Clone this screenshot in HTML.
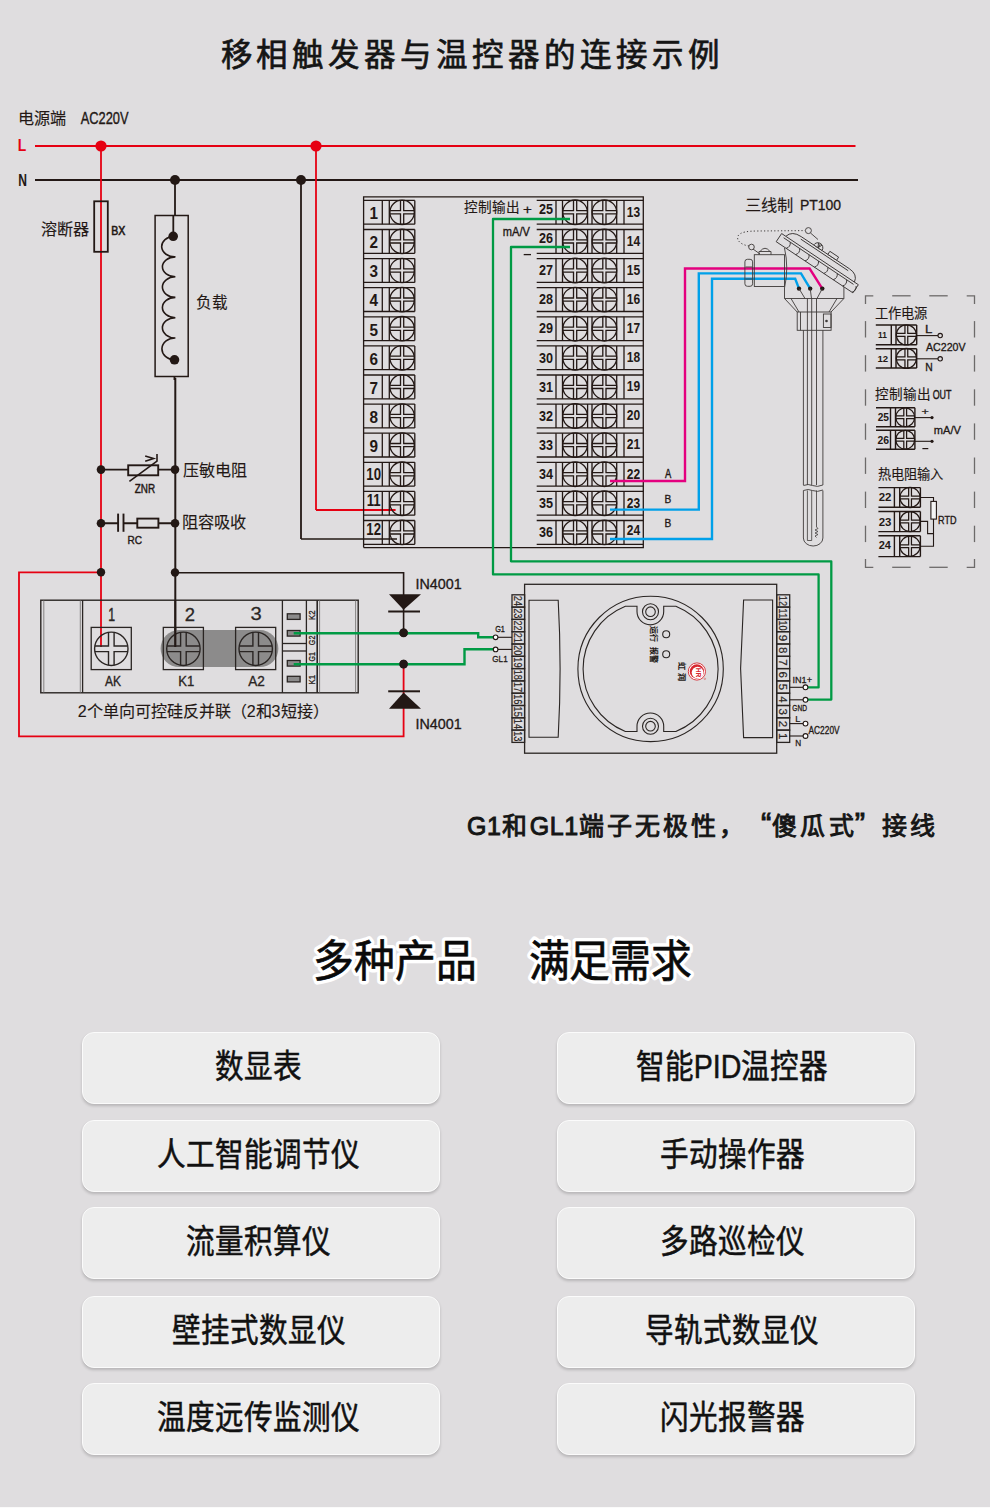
<!DOCTYPE html>
<html lang="zh-CN"><head><meta charset="utf-8"><style>
*{margin:0;padding:0;box-sizing:border-box}
html,body{width:990px;height:1508px;overflow:hidden;background:#dfdddf;font-family:"Liberation Sans", sans-serif}
.abs{position:absolute}
#title{position:absolute;left:220.5px;top:32.5px;font-size:31.5px;letter-spacing:3.95px;color:#151515;white-space:nowrap;line-height:45px;-webkit-text-stroke:0.7px #151515}
#note{position:absolute;left:467px;top:808px;font-size:25px;color:#151515;white-space:nowrap;line-height:36px;letter-spacing:3.1px;-webkit-text-stroke:0.9px #151515}
#note .lat{letter-spacing:0.6px}
#note .q{display:inline-block;width:25px;font-size:31px;line-height:20px;position:relative}
.h2{position:absolute;top:931px;font-size:40.8px;color:#0a0a0a;white-space:nowrap;line-height:60px;-webkit-text-stroke:0.6px #0a0a0a;transform-origin:0 50%;transform:scaleY(1.09)}
.h2.w{color:#fff;-webkit-text-stroke:7px #fff}
.btn{position:absolute;width:358px;height:72px;border-radius:12px;background:#ededed;border:1.5px solid #fbfbfb;
 box-shadow:0 2px 3px rgba(0,0,0,0.18)}
.btn span{position:absolute;left:-5px;right:0;top:0;text-align:center;font-size:28.6px;color:#111;line-height:68px;white-space:nowrap;transform:scaleY(1.14);-webkit-text-stroke:0.45px #111}
#bot{position:absolute;left:0;top:1507px;width:990px;height:1px;background:#fafafa}
</style></head><body>
<div id="title">移相触发器与温控器的连接示例</div>
<svg class="abs" style="left:0;top:0" width="990" height="800" viewBox="0 0 990 800">
<line x1="35" y1="146" x2="855.5" y2="146" stroke="#e60012" stroke-width="2.2" />
<line x1="35" y1="180" x2="858" y2="180" stroke="#231815" stroke-width="2" />
<line x1="101" y1="146" x2="101" y2="647" stroke="#e60012" stroke-width="1.8" />
<line x1="316" y1="146" x2="316" y2="510" stroke="#e60012" stroke-width="1.8" />
<polyline points="316,510 395.6,510" fill="none" stroke="#e60012" stroke-width="1.8" stroke-linejoin="miter" />
<line x1="175" y1="180" x2="175" y2="215.5" stroke="#231815" stroke-width="1.8" />
<line x1="174.5" y1="376.5" x2="174.5" y2="380" stroke="#231815" stroke-width="1.9" />
<line x1="175.3" y1="378" x2="175.3" y2="647" stroke="#231815" stroke-width="2" />
<line x1="301" y1="180" x2="301" y2="539" stroke="#231815" stroke-width="1.8" />
<polyline points="301,539 397,539" fill="none" stroke="#231815" stroke-width="1.6" stroke-linejoin="miter" />
<circle cx="101" cy="146" r="5.6" fill="#e60012"/>
<circle cx="316" cy="146" r="5.6" fill="#e60012"/>
<circle cx="175" cy="180" r="5" fill="#231815"/>
<circle cx="301" cy="180" r="5" fill="#231815"/>
<rect x="94.2" y="201.3" width="13.6" height="50.5" fill="none" stroke="#231815" stroke-width="1.8" />
<rect x="155.1" y="215.5" width="33.1" height="161" fill="none" stroke="#231815" stroke-width="1.5" />
<line x1="173.3" y1="215.5" x2="173.3" y2="236" stroke="#231815" stroke-width="1.8" />
<circle cx="173.2" cy="236.3" r="4.8" fill="#231815"/>
<circle cx="174.5" cy="359.8" r="4.8" fill="#231815"/>
<path d="M174,236.3 A13 10.30 0 0 0 175.4,256.9 A13 9.95 0 0 0 175.4,276.8 A13 10.30 0 0 0 175.4,297.4 A13 10.15 0 0 0 175.4,317.7 A13 10.15 0 0 0 175.4,338.0 A13 10.90 0 0 0 174.5,359.8" fill="none" stroke="#231815" stroke-width="1.6"/>
<line x1="101" y1="469.6" x2="175" y2="469.6" stroke="#231815" stroke-width="1.9" />
<rect x="128.2" y="465.3" width="30" height="10" fill="#dfdddf" stroke="#231815" stroke-width="1.9" />
<polyline points="129.4,481.4 157,461.1 157,454.1" fill="none" stroke="#231815" stroke-width="1.6" stroke-linejoin="miter" />
<polyline points="145.2,455.9 153.6,458.5 145.2,461.2" fill="none" stroke="#231815" stroke-width="1.6" stroke-linejoin="miter" />
<circle cx="101" cy="469.6" r="4.3" fill="#231815"/>
<circle cx="175" cy="469.6" r="4.3" fill="#231815"/>
<line x1="101" y1="523.2" x2="175" y2="523.2" stroke="#231815" stroke-width="1.9" />
<rect x="119" y="513" width="4" height="20" fill="#dfdddf"/>
<line x1="118.1" y1="513.6" x2="118.1" y2="531.8" stroke="#231815" stroke-width="1.9" />
<line x1="123.5" y1="513.6" x2="123.5" y2="531.8" stroke="#231815" stroke-width="1.9" />
<rect x="137.3" y="518.6" width="21.1" height="9.1" fill="#dfdddf" stroke="#231815" stroke-width="1.9" />
<circle cx="101" cy="523.2" r="4.3" fill="#231815"/>
<circle cx="175" cy="523.2" r="4.3" fill="#231815"/>
<polyline points="101,572.3 19,572.3 19,736.4 403.6,736.4 403.6,664" fill="none" stroke="#e60012" stroke-width="1.8" stroke-linejoin="miter" />
<polyline points="175,572.7 403.6,572.7 403.6,632.7" fill="none" stroke="#231815" stroke-width="1.6" stroke-linejoin="miter" />
<circle cx="101" cy="572.3" r="4.2" fill="#231815"/>
<circle cx="175" cy="572.5" r="4.2" fill="#231815"/>
<path d="M389,594.2 L421,594.2 L403.6,609.8 Z" fill="#231815"/>
<line x1="388.2" y1="611.5" x2="420" y2="611.5" stroke="#231815" stroke-width="2" />
<path d="M389,708.7 L421,708.7 L403.6,692.6 Z" fill="#231815"/>
<line x1="388.2" y1="691.3" x2="420" y2="691.3" stroke="#231815" stroke-width="2" />
<circle cx="403.6" cy="632.7" r="4.3" fill="#231815"/>
<circle cx="403.6" cy="664" r="4.3" fill="#231815"/>
<polyline points="363.6,547.6 363.6,196.8 643.3,196.8 643.3,547.6 363.6,547.6" fill="none" stroke="#231815" stroke-width="1.3" stroke-linejoin="miter" />
<line x1="363.6" y1="200.4" x2="414.8" y2="200.4" stroke="#231815" stroke-width="1.3" />
<line x1="363.6" y1="224.20000000000002" x2="414.8" y2="224.20000000000002" stroke="#231815" stroke-width="1.3" />
<line x1="382.3" y1="200.4" x2="382.3" y2="224.20000000000002" stroke="#231815" stroke-width="1.3" />
<line x1="389.3" y1="200.4" x2="389.3" y2="224.20000000000002" stroke="#231815" stroke-width="1.3" />
<line x1="414.8" y1="200.4" x2="414.8" y2="224.20000000000002" stroke="#231815" stroke-width="1.3" />
<circle cx="402.1" cy="212.3" r="12.2" fill="none" stroke="#231815" stroke-width="1.3"/>
<path d="M400.5,200.40000000000003V210.70000000000002H390.20000000000005M390.20000000000005,213.9H400.5V224.2M403.70000000000005,224.2V213.9H414.0M414.0,210.70000000000002H403.70000000000005V200.40000000000003" fill="none" stroke="#231815" stroke-width="1.3"/>
<text x="0" y="0" font-size="17.4" fill="#231815" font-weight="bold" text-anchor="middle" font-family='"Liberation Sans", sans-serif' transform="translate(373.8,219.1) scale(0.88,1.0)">1</text>
<line x1="536.7" y1="200.4" x2="643.3" y2="200.4" stroke="#231815" stroke-width="1.3" />
<line x1="536.7" y1="224.20000000000002" x2="643.3" y2="224.20000000000002" stroke="#231815" stroke-width="1.3" />
<line x1="556" y1="200.4" x2="556" y2="224.20000000000002" stroke="#231815" stroke-width="1.3" />
<line x1="562.5" y1="200.4" x2="562.5" y2="224.20000000000002" stroke="#231815" stroke-width="1.3" />
<line x1="587.6" y1="200.4" x2="587.6" y2="224.20000000000002" stroke="#231815" stroke-width="1.3" />
<line x1="592" y1="200.4" x2="592" y2="224.20000000000002" stroke="#231815" stroke-width="1.3" />
<line x1="616.7" y1="200.4" x2="616.7" y2="224.20000000000002" stroke="#231815" stroke-width="1.3" />
<line x1="624" y1="200.4" x2="624" y2="224.20000000000002" stroke="#231815" stroke-width="1.3" />
<circle cx="575.1" cy="212.3" r="12.3" fill="none" stroke="#231815" stroke-width="1.3"/>
<path d="M573.5,200.3V210.70000000000002H563.1M563.1,213.9H573.5V224.3M576.7,224.3V213.9H587.1M587.1,210.70000000000002H576.7V200.3" fill="none" stroke="#231815" stroke-width="1.3"/>
<circle cx="604.4" cy="212.3" r="12.3" fill="none" stroke="#231815" stroke-width="1.3"/>
<path d="M602.8,200.3V210.70000000000002H592.4M592.4,213.9H602.8V224.3M606.0,224.3V213.9H616.4M616.4,210.70000000000002H606.0V200.3" fill="none" stroke="#231815" stroke-width="1.3"/>
<text x="0" y="0" font-size="14" fill="#231815" font-weight="bold" text-anchor="middle" font-family='"Liberation Sans", sans-serif' transform="translate(546.1,213.8) scale(0.9,1.0)">25</text>
<text x="0" y="0" font-size="14" fill="#231815" font-weight="bold" text-anchor="middle" font-family='"Liberation Sans", sans-serif' transform="translate(633.4,216.6) scale(0.86,1.0)">13</text>
<line x1="363.6" y1="229.5" x2="414.8" y2="229.5" stroke="#231815" stroke-width="1.3" />
<line x1="363.6" y1="253.3" x2="414.8" y2="253.3" stroke="#231815" stroke-width="1.3" />
<line x1="382.3" y1="229.5" x2="382.3" y2="253.3" stroke="#231815" stroke-width="1.3" />
<line x1="389.3" y1="229.5" x2="389.3" y2="253.3" stroke="#231815" stroke-width="1.3" />
<line x1="414.8" y1="229.5" x2="414.8" y2="253.3" stroke="#231815" stroke-width="1.3" />
<circle cx="402.1" cy="241.4" r="12.2" fill="none" stroke="#231815" stroke-width="1.3"/>
<path d="M400.5,229.50000000000003V239.8H390.20000000000005M390.20000000000005,243.0H400.5V253.29999999999998M403.70000000000005,253.29999999999998V243.0H414.0M414.0,239.8H403.70000000000005V229.50000000000003" fill="none" stroke="#231815" stroke-width="1.3"/>
<text x="0" y="0" font-size="17.4" fill="#231815" font-weight="bold" text-anchor="middle" font-family='"Liberation Sans", sans-serif' transform="translate(373.8,248.2) scale(0.88,1.0)">2</text>
<line x1="536.7" y1="229.5" x2="643.3" y2="229.5" stroke="#231815" stroke-width="1.3" />
<line x1="536.7" y1="253.3" x2="643.3" y2="253.3" stroke="#231815" stroke-width="1.3" />
<line x1="556" y1="229.5" x2="556" y2="253.3" stroke="#231815" stroke-width="1.3" />
<line x1="562.5" y1="229.5" x2="562.5" y2="253.3" stroke="#231815" stroke-width="1.3" />
<line x1="587.6" y1="229.5" x2="587.6" y2="253.3" stroke="#231815" stroke-width="1.3" />
<line x1="592" y1="229.5" x2="592" y2="253.3" stroke="#231815" stroke-width="1.3" />
<line x1="616.7" y1="229.5" x2="616.7" y2="253.3" stroke="#231815" stroke-width="1.3" />
<line x1="624" y1="229.5" x2="624" y2="253.3" stroke="#231815" stroke-width="1.3" />
<circle cx="575.1" cy="241.4" r="12.3" fill="none" stroke="#231815" stroke-width="1.3"/>
<path d="M573.5,229.4V239.8H563.1M563.1,243.0H573.5V253.4M576.7,253.4V243.0H587.1M587.1,239.8H576.7V229.4" fill="none" stroke="#231815" stroke-width="1.3"/>
<circle cx="604.4" cy="241.4" r="12.3" fill="none" stroke="#231815" stroke-width="1.3"/>
<path d="M602.8,229.4V239.8H592.4M592.4,243.0H602.8V253.4M606.0,253.4V243.0H616.4M616.4,239.8H606.0V229.4" fill="none" stroke="#231815" stroke-width="1.3"/>
<text x="0" y="0" font-size="14" fill="#231815" font-weight="bold" text-anchor="middle" font-family='"Liberation Sans", sans-serif' transform="translate(546.1,242.9) scale(0.9,1.0)">26</text>
<text x="0" y="0" font-size="14" fill="#231815" font-weight="bold" text-anchor="middle" font-family='"Liberation Sans", sans-serif' transform="translate(633.4,245.7) scale(0.86,1.0)">14</text>
<line x1="363.6" y1="258.6" x2="414.8" y2="258.6" stroke="#231815" stroke-width="1.3" />
<line x1="363.6" y1="282.40000000000003" x2="414.8" y2="282.40000000000003" stroke="#231815" stroke-width="1.3" />
<line x1="382.3" y1="258.6" x2="382.3" y2="282.40000000000003" stroke="#231815" stroke-width="1.3" />
<line x1="389.3" y1="258.6" x2="389.3" y2="282.40000000000003" stroke="#231815" stroke-width="1.3" />
<line x1="414.8" y1="258.6" x2="414.8" y2="282.40000000000003" stroke="#231815" stroke-width="1.3" />
<circle cx="402.1" cy="270.5" r="12.2" fill="none" stroke="#231815" stroke-width="1.3"/>
<path d="M400.5,258.6V268.9H390.20000000000005M390.20000000000005,272.1H400.5V282.4M403.70000000000005,282.4V272.1H414.0M414.0,268.9H403.70000000000005V258.6" fill="none" stroke="#231815" stroke-width="1.3"/>
<text x="0" y="0" font-size="17.4" fill="#231815" font-weight="bold" text-anchor="middle" font-family='"Liberation Sans", sans-serif' transform="translate(373.8,277.3) scale(0.88,1.0)">3</text>
<line x1="536.7" y1="258.6" x2="643.3" y2="258.6" stroke="#231815" stroke-width="1.3" />
<line x1="536.7" y1="282.40000000000003" x2="643.3" y2="282.40000000000003" stroke="#231815" stroke-width="1.3" />
<line x1="556" y1="258.6" x2="556" y2="282.40000000000003" stroke="#231815" stroke-width="1.3" />
<line x1="562.5" y1="258.6" x2="562.5" y2="282.40000000000003" stroke="#231815" stroke-width="1.3" />
<line x1="587.6" y1="258.6" x2="587.6" y2="282.40000000000003" stroke="#231815" stroke-width="1.3" />
<line x1="592" y1="258.6" x2="592" y2="282.40000000000003" stroke="#231815" stroke-width="1.3" />
<line x1="616.7" y1="258.6" x2="616.7" y2="282.40000000000003" stroke="#231815" stroke-width="1.3" />
<line x1="624" y1="258.6" x2="624" y2="282.40000000000003" stroke="#231815" stroke-width="1.3" />
<circle cx="575.1" cy="270.5" r="12.3" fill="none" stroke="#231815" stroke-width="1.3"/>
<path d="M573.5,258.5V268.9H563.1M563.1,272.1H573.5V282.5M576.7,282.5V272.1H587.1M587.1,268.9H576.7V258.5" fill="none" stroke="#231815" stroke-width="1.3"/>
<circle cx="604.4" cy="270.5" r="12.3" fill="none" stroke="#231815" stroke-width="1.3"/>
<path d="M602.8,258.5V268.9H592.4M592.4,272.1H602.8V282.5M606.0,282.5V272.1H616.4M616.4,268.9H606.0V258.5" fill="none" stroke="#231815" stroke-width="1.3"/>
<text x="0" y="0" font-size="14" fill="#231815" font-weight="bold" text-anchor="middle" font-family='"Liberation Sans", sans-serif' transform="translate(546.1,275.20000000000005) scale(0.9,1.0)">27</text>
<text x="0" y="0" font-size="14" fill="#231815" font-weight="bold" text-anchor="middle" font-family='"Liberation Sans", sans-serif' transform="translate(633.4,274.8) scale(0.86,1.0)">15</text>
<line x1="363.6" y1="287.70000000000005" x2="414.8" y2="287.70000000000005" stroke="#231815" stroke-width="1.3" />
<line x1="363.6" y1="311.50000000000006" x2="414.8" y2="311.50000000000006" stroke="#231815" stroke-width="1.3" />
<line x1="382.3" y1="287.70000000000005" x2="382.3" y2="311.50000000000006" stroke="#231815" stroke-width="1.3" />
<line x1="389.3" y1="287.70000000000005" x2="389.3" y2="311.50000000000006" stroke="#231815" stroke-width="1.3" />
<line x1="414.8" y1="287.70000000000005" x2="414.8" y2="311.50000000000006" stroke="#231815" stroke-width="1.3" />
<circle cx="402.1" cy="299.6" r="12.2" fill="none" stroke="#231815" stroke-width="1.3"/>
<path d="M400.5,287.70000000000005V298.0H390.20000000000005M390.20000000000005,301.20000000000005H400.5V311.5M403.70000000000005,311.5V301.20000000000005H414.0M414.0,298.0H403.70000000000005V287.70000000000005" fill="none" stroke="#231815" stroke-width="1.3"/>
<text x="0" y="0" font-size="17.4" fill="#231815" font-weight="bold" text-anchor="middle" font-family='"Liberation Sans", sans-serif' transform="translate(373.8,306.40000000000003) scale(0.88,1.0)">4</text>
<line x1="536.7" y1="287.70000000000005" x2="643.3" y2="287.70000000000005" stroke="#231815" stroke-width="1.3" />
<line x1="536.7" y1="311.50000000000006" x2="643.3" y2="311.50000000000006" stroke="#231815" stroke-width="1.3" />
<line x1="556" y1="287.70000000000005" x2="556" y2="311.50000000000006" stroke="#231815" stroke-width="1.3" />
<line x1="562.5" y1="287.70000000000005" x2="562.5" y2="311.50000000000006" stroke="#231815" stroke-width="1.3" />
<line x1="587.6" y1="287.70000000000005" x2="587.6" y2="311.50000000000006" stroke="#231815" stroke-width="1.3" />
<line x1="592" y1="287.70000000000005" x2="592" y2="311.50000000000006" stroke="#231815" stroke-width="1.3" />
<line x1="616.7" y1="287.70000000000005" x2="616.7" y2="311.50000000000006" stroke="#231815" stroke-width="1.3" />
<line x1="624" y1="287.70000000000005" x2="624" y2="311.50000000000006" stroke="#231815" stroke-width="1.3" />
<circle cx="575.1" cy="299.6" r="12.3" fill="none" stroke="#231815" stroke-width="1.3"/>
<path d="M573.5,287.6V298.0H563.1M563.1,301.20000000000005H573.5V311.6M576.7,311.6V301.20000000000005H587.1M587.1,298.0H576.7V287.6" fill="none" stroke="#231815" stroke-width="1.3"/>
<circle cx="604.4" cy="299.6" r="12.3" fill="none" stroke="#231815" stroke-width="1.3"/>
<path d="M602.8,287.6V298.0H592.4M592.4,301.20000000000005H602.8V311.6M606.0,311.6V301.20000000000005H616.4M616.4,298.0H606.0V287.6" fill="none" stroke="#231815" stroke-width="1.3"/>
<text x="0" y="0" font-size="14" fill="#231815" font-weight="bold" text-anchor="middle" font-family='"Liberation Sans", sans-serif' transform="translate(546.1,304.30000000000007) scale(0.9,1.0)">28</text>
<text x="0" y="0" font-size="14" fill="#231815" font-weight="bold" text-anchor="middle" font-family='"Liberation Sans", sans-serif' transform="translate(633.4,303.90000000000003) scale(0.86,1.0)">16</text>
<line x1="363.6" y1="316.8" x2="414.8" y2="316.8" stroke="#231815" stroke-width="1.3" />
<line x1="363.6" y1="340.6" x2="414.8" y2="340.6" stroke="#231815" stroke-width="1.3" />
<line x1="382.3" y1="316.8" x2="382.3" y2="340.6" stroke="#231815" stroke-width="1.3" />
<line x1="389.3" y1="316.8" x2="389.3" y2="340.6" stroke="#231815" stroke-width="1.3" />
<line x1="414.8" y1="316.8" x2="414.8" y2="340.6" stroke="#231815" stroke-width="1.3" />
<circle cx="402.1" cy="328.7" r="12.2" fill="none" stroke="#231815" stroke-width="1.3"/>
<path d="M400.5,316.8V327.09999999999997H390.20000000000005M390.20000000000005,330.3H400.5V340.59999999999997M403.70000000000005,340.59999999999997V330.3H414.0M414.0,327.09999999999997H403.70000000000005V316.8" fill="none" stroke="#231815" stroke-width="1.3"/>
<text x="0" y="0" font-size="17.4" fill="#231815" font-weight="bold" text-anchor="middle" font-family='"Liberation Sans", sans-serif' transform="translate(373.8,335.5) scale(0.88,1.0)">5</text>
<line x1="536.7" y1="316.8" x2="643.3" y2="316.8" stroke="#231815" stroke-width="1.3" />
<line x1="536.7" y1="340.6" x2="643.3" y2="340.6" stroke="#231815" stroke-width="1.3" />
<line x1="556" y1="316.8" x2="556" y2="340.6" stroke="#231815" stroke-width="1.3" />
<line x1="562.5" y1="316.8" x2="562.5" y2="340.6" stroke="#231815" stroke-width="1.3" />
<line x1="587.6" y1="316.8" x2="587.6" y2="340.6" stroke="#231815" stroke-width="1.3" />
<line x1="592" y1="316.8" x2="592" y2="340.6" stroke="#231815" stroke-width="1.3" />
<line x1="616.7" y1="316.8" x2="616.7" y2="340.6" stroke="#231815" stroke-width="1.3" />
<line x1="624" y1="316.8" x2="624" y2="340.6" stroke="#231815" stroke-width="1.3" />
<circle cx="575.1" cy="328.7" r="12.3" fill="none" stroke="#231815" stroke-width="1.3"/>
<path d="M573.5,316.7V327.09999999999997H563.1M563.1,330.3H573.5V340.7M576.7,340.7V330.3H587.1M587.1,327.09999999999997H576.7V316.7" fill="none" stroke="#231815" stroke-width="1.3"/>
<circle cx="604.4" cy="328.7" r="12.3" fill="none" stroke="#231815" stroke-width="1.3"/>
<path d="M602.8,316.7V327.09999999999997H592.4M592.4,330.3H602.8V340.7M606.0,340.7V330.3H616.4M616.4,327.09999999999997H606.0V316.7" fill="none" stroke="#231815" stroke-width="1.3"/>
<text x="0" y="0" font-size="14" fill="#231815" font-weight="bold" text-anchor="middle" font-family='"Liberation Sans", sans-serif' transform="translate(546.1,333.40000000000003) scale(0.9,1.0)">29</text>
<text x="0" y="0" font-size="14" fill="#231815" font-weight="bold" text-anchor="middle" font-family='"Liberation Sans", sans-serif' transform="translate(633.4,333.0) scale(0.86,1.0)">17</text>
<line x1="363.6" y1="345.9" x2="414.8" y2="345.9" stroke="#231815" stroke-width="1.3" />
<line x1="363.6" y1="369.7" x2="414.8" y2="369.7" stroke="#231815" stroke-width="1.3" />
<line x1="382.3" y1="345.9" x2="382.3" y2="369.7" stroke="#231815" stroke-width="1.3" />
<line x1="389.3" y1="345.9" x2="389.3" y2="369.7" stroke="#231815" stroke-width="1.3" />
<line x1="414.8" y1="345.9" x2="414.8" y2="369.7" stroke="#231815" stroke-width="1.3" />
<circle cx="402.1" cy="357.79999999999995" r="12.2" fill="none" stroke="#231815" stroke-width="1.3"/>
<path d="M400.5,345.9V356.19999999999993H390.20000000000005M390.20000000000005,359.4H400.5V369.69999999999993M403.70000000000005,369.69999999999993V359.4H414.0M414.0,356.19999999999993H403.70000000000005V345.9" fill="none" stroke="#231815" stroke-width="1.3"/>
<text x="0" y="0" font-size="17.4" fill="#231815" font-weight="bold" text-anchor="middle" font-family='"Liberation Sans", sans-serif' transform="translate(373.8,364.59999999999997) scale(0.88,1.0)">6</text>
<line x1="536.7" y1="345.9" x2="643.3" y2="345.9" stroke="#231815" stroke-width="1.3" />
<line x1="536.7" y1="369.7" x2="643.3" y2="369.7" stroke="#231815" stroke-width="1.3" />
<line x1="556" y1="345.9" x2="556" y2="369.7" stroke="#231815" stroke-width="1.3" />
<line x1="562.5" y1="345.9" x2="562.5" y2="369.7" stroke="#231815" stroke-width="1.3" />
<line x1="587.6" y1="345.9" x2="587.6" y2="369.7" stroke="#231815" stroke-width="1.3" />
<line x1="592" y1="345.9" x2="592" y2="369.7" stroke="#231815" stroke-width="1.3" />
<line x1="616.7" y1="345.9" x2="616.7" y2="369.7" stroke="#231815" stroke-width="1.3" />
<line x1="624" y1="345.9" x2="624" y2="369.7" stroke="#231815" stroke-width="1.3" />
<circle cx="575.1" cy="357.79999999999995" r="12.3" fill="none" stroke="#231815" stroke-width="1.3"/>
<path d="M573.5,345.79999999999995V356.19999999999993H563.1M563.1,359.4H573.5V369.79999999999995M576.7,369.79999999999995V359.4H587.1M587.1,356.19999999999993H576.7V345.79999999999995" fill="none" stroke="#231815" stroke-width="1.3"/>
<circle cx="604.4" cy="357.79999999999995" r="12.3" fill="none" stroke="#231815" stroke-width="1.3"/>
<path d="M602.8,345.79999999999995V356.19999999999993H592.4M592.4,359.4H602.8V369.79999999999995M606.0,369.79999999999995V359.4H616.4M616.4,356.19999999999993H606.0V345.79999999999995" fill="none" stroke="#231815" stroke-width="1.3"/>
<text x="0" y="0" font-size="14" fill="#231815" font-weight="bold" text-anchor="middle" font-family='"Liberation Sans", sans-serif' transform="translate(546.1,362.5) scale(0.9,1.0)">30</text>
<text x="0" y="0" font-size="14" fill="#231815" font-weight="bold" text-anchor="middle" font-family='"Liberation Sans", sans-serif' transform="translate(633.4,362.09999999999997) scale(0.86,1.0)">18</text>
<line x1="363.6" y1="375.0" x2="414.8" y2="375.0" stroke="#231815" stroke-width="1.3" />
<line x1="363.6" y1="398.8" x2="414.8" y2="398.8" stroke="#231815" stroke-width="1.3" />
<line x1="382.3" y1="375.0" x2="382.3" y2="398.8" stroke="#231815" stroke-width="1.3" />
<line x1="389.3" y1="375.0" x2="389.3" y2="398.8" stroke="#231815" stroke-width="1.3" />
<line x1="414.8" y1="375.0" x2="414.8" y2="398.8" stroke="#231815" stroke-width="1.3" />
<circle cx="402.1" cy="386.9" r="12.2" fill="none" stroke="#231815" stroke-width="1.3"/>
<path d="M400.5,375.0V385.29999999999995H390.20000000000005M390.20000000000005,388.5H400.5V398.79999999999995M403.70000000000005,398.79999999999995V388.5H414.0M414.0,385.29999999999995H403.70000000000005V375.0" fill="none" stroke="#231815" stroke-width="1.3"/>
<text x="0" y="0" font-size="17.4" fill="#231815" font-weight="bold" text-anchor="middle" font-family='"Liberation Sans", sans-serif' transform="translate(373.8,393.7) scale(0.88,1.0)">7</text>
<line x1="536.7" y1="375.0" x2="643.3" y2="375.0" stroke="#231815" stroke-width="1.3" />
<line x1="536.7" y1="398.8" x2="643.3" y2="398.8" stroke="#231815" stroke-width="1.3" />
<line x1="556" y1="375.0" x2="556" y2="398.8" stroke="#231815" stroke-width="1.3" />
<line x1="562.5" y1="375.0" x2="562.5" y2="398.8" stroke="#231815" stroke-width="1.3" />
<line x1="587.6" y1="375.0" x2="587.6" y2="398.8" stroke="#231815" stroke-width="1.3" />
<line x1="592" y1="375.0" x2="592" y2="398.8" stroke="#231815" stroke-width="1.3" />
<line x1="616.7" y1="375.0" x2="616.7" y2="398.8" stroke="#231815" stroke-width="1.3" />
<line x1="624" y1="375.0" x2="624" y2="398.8" stroke="#231815" stroke-width="1.3" />
<circle cx="575.1" cy="386.9" r="12.3" fill="none" stroke="#231815" stroke-width="1.3"/>
<path d="M573.5,374.9V385.29999999999995H563.1M563.1,388.5H573.5V398.9M576.7,398.9V388.5H587.1M587.1,385.29999999999995H576.7V374.9" fill="none" stroke="#231815" stroke-width="1.3"/>
<circle cx="604.4" cy="386.9" r="12.3" fill="none" stroke="#231815" stroke-width="1.3"/>
<path d="M602.8,374.9V385.29999999999995H592.4M592.4,388.5H602.8V398.9M606.0,398.9V388.5H616.4M616.4,385.29999999999995H606.0V374.9" fill="none" stroke="#231815" stroke-width="1.3"/>
<text x="0" y="0" font-size="14" fill="#231815" font-weight="bold" text-anchor="middle" font-family='"Liberation Sans", sans-serif' transform="translate(546.1,391.6) scale(0.9,1.0)">31</text>
<text x="0" y="0" font-size="14" fill="#231815" font-weight="bold" text-anchor="middle" font-family='"Liberation Sans", sans-serif' transform="translate(633.4,391.2) scale(0.86,1.0)">19</text>
<line x1="363.6" y1="404.1" x2="414.8" y2="404.1" stroke="#231815" stroke-width="1.3" />
<line x1="363.6" y1="427.90000000000003" x2="414.8" y2="427.90000000000003" stroke="#231815" stroke-width="1.3" />
<line x1="382.3" y1="404.1" x2="382.3" y2="427.90000000000003" stroke="#231815" stroke-width="1.3" />
<line x1="389.3" y1="404.1" x2="389.3" y2="427.90000000000003" stroke="#231815" stroke-width="1.3" />
<line x1="414.8" y1="404.1" x2="414.8" y2="427.90000000000003" stroke="#231815" stroke-width="1.3" />
<circle cx="402.1" cy="416.0" r="12.2" fill="none" stroke="#231815" stroke-width="1.3"/>
<path d="M400.5,404.1V414.4H390.20000000000005M390.20000000000005,417.6H400.5V427.9M403.70000000000005,427.9V417.6H414.0M414.0,414.4H403.70000000000005V404.1" fill="none" stroke="#231815" stroke-width="1.3"/>
<text x="0" y="0" font-size="17.4" fill="#231815" font-weight="bold" text-anchor="middle" font-family='"Liberation Sans", sans-serif' transform="translate(373.8,422.8) scale(0.88,1.0)">8</text>
<line x1="536.7" y1="404.1" x2="643.3" y2="404.1" stroke="#231815" stroke-width="1.3" />
<line x1="536.7" y1="427.90000000000003" x2="643.3" y2="427.90000000000003" stroke="#231815" stroke-width="1.3" />
<line x1="556" y1="404.1" x2="556" y2="427.90000000000003" stroke="#231815" stroke-width="1.3" />
<line x1="562.5" y1="404.1" x2="562.5" y2="427.90000000000003" stroke="#231815" stroke-width="1.3" />
<line x1="587.6" y1="404.1" x2="587.6" y2="427.90000000000003" stroke="#231815" stroke-width="1.3" />
<line x1="592" y1="404.1" x2="592" y2="427.90000000000003" stroke="#231815" stroke-width="1.3" />
<line x1="616.7" y1="404.1" x2="616.7" y2="427.90000000000003" stroke="#231815" stroke-width="1.3" />
<line x1="624" y1="404.1" x2="624" y2="427.90000000000003" stroke="#231815" stroke-width="1.3" />
<circle cx="575.1" cy="416.0" r="12.3" fill="none" stroke="#231815" stroke-width="1.3"/>
<path d="M573.5,404.0V414.4H563.1M563.1,417.6H573.5V428.0M576.7,428.0V417.6H587.1M587.1,414.4H576.7V404.0" fill="none" stroke="#231815" stroke-width="1.3"/>
<circle cx="604.4" cy="416.0" r="12.3" fill="none" stroke="#231815" stroke-width="1.3"/>
<path d="M602.8,404.0V414.4H592.4M592.4,417.6H602.8V428.0M606.0,428.0V417.6H616.4M616.4,414.4H606.0V404.0" fill="none" stroke="#231815" stroke-width="1.3"/>
<text x="0" y="0" font-size="14" fill="#231815" font-weight="bold" text-anchor="middle" font-family='"Liberation Sans", sans-serif' transform="translate(546.1,420.70000000000005) scale(0.9,1.0)">32</text>
<text x="0" y="0" font-size="14" fill="#231815" font-weight="bold" text-anchor="middle" font-family='"Liberation Sans", sans-serif' transform="translate(633.4,420.3) scale(0.86,1.0)">20</text>
<line x1="363.6" y1="433.20000000000005" x2="414.8" y2="433.20000000000005" stroke="#231815" stroke-width="1.3" />
<line x1="363.6" y1="457.00000000000006" x2="414.8" y2="457.00000000000006" stroke="#231815" stroke-width="1.3" />
<line x1="382.3" y1="433.20000000000005" x2="382.3" y2="457.00000000000006" stroke="#231815" stroke-width="1.3" />
<line x1="389.3" y1="433.20000000000005" x2="389.3" y2="457.00000000000006" stroke="#231815" stroke-width="1.3" />
<line x1="414.8" y1="433.20000000000005" x2="414.8" y2="457.00000000000006" stroke="#231815" stroke-width="1.3" />
<circle cx="402.1" cy="445.1" r="12.2" fill="none" stroke="#231815" stroke-width="1.3"/>
<path d="M400.5,433.20000000000005V443.5H390.20000000000005M390.20000000000005,446.70000000000005H400.5V457.0M403.70000000000005,457.0V446.70000000000005H414.0M414.0,443.5H403.70000000000005V433.20000000000005" fill="none" stroke="#231815" stroke-width="1.3"/>
<text x="0" y="0" font-size="17.4" fill="#231815" font-weight="bold" text-anchor="middle" font-family='"Liberation Sans", sans-serif' transform="translate(373.8,451.90000000000003) scale(0.88,1.0)">9</text>
<line x1="536.7" y1="433.20000000000005" x2="643.3" y2="433.20000000000005" stroke="#231815" stroke-width="1.3" />
<line x1="536.7" y1="457.00000000000006" x2="643.3" y2="457.00000000000006" stroke="#231815" stroke-width="1.3" />
<line x1="556" y1="433.20000000000005" x2="556" y2="457.00000000000006" stroke="#231815" stroke-width="1.3" />
<line x1="562.5" y1="433.20000000000005" x2="562.5" y2="457.00000000000006" stroke="#231815" stroke-width="1.3" />
<line x1="587.6" y1="433.20000000000005" x2="587.6" y2="457.00000000000006" stroke="#231815" stroke-width="1.3" />
<line x1="592" y1="433.20000000000005" x2="592" y2="457.00000000000006" stroke="#231815" stroke-width="1.3" />
<line x1="616.7" y1="433.20000000000005" x2="616.7" y2="457.00000000000006" stroke="#231815" stroke-width="1.3" />
<line x1="624" y1="433.20000000000005" x2="624" y2="457.00000000000006" stroke="#231815" stroke-width="1.3" />
<circle cx="575.1" cy="445.1" r="12.3" fill="none" stroke="#231815" stroke-width="1.3"/>
<path d="M573.5,433.1V443.5H563.1M563.1,446.70000000000005H573.5V457.1M576.7,457.1V446.70000000000005H587.1M587.1,443.5H576.7V433.1" fill="none" stroke="#231815" stroke-width="1.3"/>
<circle cx="604.4" cy="445.1" r="12.3" fill="none" stroke="#231815" stroke-width="1.3"/>
<path d="M602.8,433.1V443.5H592.4M592.4,446.70000000000005H602.8V457.1M606.0,457.1V446.70000000000005H616.4M616.4,443.5H606.0V433.1" fill="none" stroke="#231815" stroke-width="1.3"/>
<text x="0" y="0" font-size="14" fill="#231815" font-weight="bold" text-anchor="middle" font-family='"Liberation Sans", sans-serif' transform="translate(546.1,449.80000000000007) scale(0.9,1.0)">33</text>
<text x="0" y="0" font-size="14" fill="#231815" font-weight="bold" text-anchor="middle" font-family='"Liberation Sans", sans-serif' transform="translate(633.4,449.40000000000003) scale(0.86,1.0)">21</text>
<line x1="363.6" y1="462.30000000000007" x2="414.8" y2="462.30000000000007" stroke="#231815" stroke-width="1.3" />
<line x1="363.6" y1="486.1000000000001" x2="414.8" y2="486.1000000000001" stroke="#231815" stroke-width="1.3" />
<line x1="382.3" y1="462.30000000000007" x2="382.3" y2="486.1000000000001" stroke="#231815" stroke-width="1.3" />
<line x1="389.3" y1="462.30000000000007" x2="389.3" y2="486.1000000000001" stroke="#231815" stroke-width="1.3" />
<line x1="414.8" y1="462.30000000000007" x2="414.8" y2="486.1000000000001" stroke="#231815" stroke-width="1.3" />
<circle cx="402.1" cy="474.20000000000005" r="12.2" fill="none" stroke="#231815" stroke-width="1.3"/>
<path d="M400.5,462.30000000000007V472.6H390.20000000000005M390.20000000000005,475.80000000000007H400.5V486.1M403.70000000000005,486.1V475.80000000000007H414.0M414.0,472.6H403.70000000000005V462.30000000000007" fill="none" stroke="#231815" stroke-width="1.3"/>
<text x="0" y="0" font-size="16.5" fill="#231815" font-weight="bold" text-anchor="middle" font-family='"Liberation Sans", sans-serif' transform="translate(373.7,479.70000000000005) scale(0.8,1.0)">10</text>
<line x1="536.7" y1="462.30000000000007" x2="643.3" y2="462.30000000000007" stroke="#231815" stroke-width="1.3" />
<line x1="536.7" y1="486.1000000000001" x2="643.3" y2="486.1000000000001" stroke="#231815" stroke-width="1.3" />
<line x1="556" y1="462.30000000000007" x2="556" y2="486.1000000000001" stroke="#231815" stroke-width="1.3" />
<line x1="562.5" y1="462.30000000000007" x2="562.5" y2="486.1000000000001" stroke="#231815" stroke-width="1.3" />
<line x1="587.6" y1="462.30000000000007" x2="587.6" y2="486.1000000000001" stroke="#231815" stroke-width="1.3" />
<line x1="592" y1="462.30000000000007" x2="592" y2="486.1000000000001" stroke="#231815" stroke-width="1.3" />
<line x1="616.7" y1="462.30000000000007" x2="616.7" y2="486.1000000000001" stroke="#231815" stroke-width="1.3" />
<line x1="624" y1="462.30000000000007" x2="624" y2="486.1000000000001" stroke="#231815" stroke-width="1.3" />
<circle cx="575.1" cy="474.20000000000005" r="12.3" fill="none" stroke="#231815" stroke-width="1.3"/>
<path d="M573.5,462.20000000000005V472.6H563.1M563.1,475.80000000000007H573.5V486.20000000000005M576.7,486.20000000000005V475.80000000000007H587.1M587.1,472.6H576.7V462.20000000000005" fill="none" stroke="#231815" stroke-width="1.3"/>
<circle cx="604.4" cy="474.20000000000005" r="12.3" fill="none" stroke="#231815" stroke-width="1.3"/>
<path d="M602.8,462.20000000000005V472.6H592.4M592.4,475.80000000000007H602.8V486.20000000000005M606.0,486.20000000000005V475.80000000000007H616.4M616.4,472.6H606.0V462.20000000000005" fill="none" stroke="#231815" stroke-width="1.3"/>
<text x="0" y="0" font-size="14" fill="#231815" font-weight="bold" text-anchor="middle" font-family='"Liberation Sans", sans-serif' transform="translate(546.1,478.9000000000001) scale(0.9,1.0)">34</text>
<text x="0" y="0" font-size="14" fill="#231815" font-weight="bold" text-anchor="middle" font-family='"Liberation Sans", sans-serif' transform="translate(633.4,478.50000000000006) scale(0.86,1.0)">22</text>
<line x1="363.6" y1="491.4" x2="414.8" y2="491.4" stroke="#231815" stroke-width="1.3" />
<line x1="363.6" y1="515.1999999999999" x2="414.8" y2="515.1999999999999" stroke="#231815" stroke-width="1.3" />
<line x1="382.3" y1="491.4" x2="382.3" y2="515.1999999999999" stroke="#231815" stroke-width="1.3" />
<line x1="389.3" y1="491.4" x2="389.3" y2="515.1999999999999" stroke="#231815" stroke-width="1.3" />
<line x1="414.8" y1="491.4" x2="414.8" y2="515.1999999999999" stroke="#231815" stroke-width="1.3" />
<circle cx="402.1" cy="503.29999999999995" r="12.2" fill="none" stroke="#231815" stroke-width="1.3"/>
<path d="M400.5,491.4V501.69999999999993H390.20000000000005M390.20000000000005,504.9H400.5V515.2M403.70000000000005,515.2V504.9H414.0M414.0,501.69999999999993H403.70000000000005V491.4" fill="none" stroke="#231815" stroke-width="1.3"/>
<text x="0" y="0" font-size="16.5" fill="#231815" font-weight="bold" text-anchor="middle" font-family='"Liberation Sans", sans-serif' transform="translate(373.7,505.9) scale(0.8,1.0)">11</text>
<line x1="536.7" y1="491.4" x2="643.3" y2="491.4" stroke="#231815" stroke-width="1.3" />
<line x1="536.7" y1="515.1999999999999" x2="643.3" y2="515.1999999999999" stroke="#231815" stroke-width="1.3" />
<line x1="556" y1="491.4" x2="556" y2="515.1999999999999" stroke="#231815" stroke-width="1.3" />
<line x1="562.5" y1="491.4" x2="562.5" y2="515.1999999999999" stroke="#231815" stroke-width="1.3" />
<line x1="587.6" y1="491.4" x2="587.6" y2="515.1999999999999" stroke="#231815" stroke-width="1.3" />
<line x1="592" y1="491.4" x2="592" y2="515.1999999999999" stroke="#231815" stroke-width="1.3" />
<line x1="616.7" y1="491.4" x2="616.7" y2="515.1999999999999" stroke="#231815" stroke-width="1.3" />
<line x1="624" y1="491.4" x2="624" y2="515.1999999999999" stroke="#231815" stroke-width="1.3" />
<circle cx="575.1" cy="503.29999999999995" r="12.3" fill="none" stroke="#231815" stroke-width="1.3"/>
<path d="M573.5,491.29999999999995V501.69999999999993H563.1M563.1,504.9H573.5V515.3M576.7,515.3V504.9H587.1M587.1,501.69999999999993H576.7V491.29999999999995" fill="none" stroke="#231815" stroke-width="1.3"/>
<circle cx="604.4" cy="503.29999999999995" r="12.3" fill="none" stroke="#231815" stroke-width="1.3"/>
<path d="M602.8,491.29999999999995V501.69999999999993H592.4M592.4,504.9H602.8V515.3M606.0,515.3V504.9H616.4M616.4,501.69999999999993H606.0V491.29999999999995" fill="none" stroke="#231815" stroke-width="1.3"/>
<text x="0" y="0" font-size="14" fill="#231815" font-weight="bold" text-anchor="middle" font-family='"Liberation Sans", sans-serif' transform="translate(546.1,508.0) scale(0.9,1.0)">35</text>
<text x="0" y="0" font-size="14" fill="#231815" font-weight="bold" text-anchor="middle" font-family='"Liberation Sans", sans-serif' transform="translate(633.4,507.59999999999997) scale(0.86,1.0)">23</text>
<line x1="363.6" y1="520.5" x2="414.8" y2="520.5" stroke="#231815" stroke-width="1.3" />
<line x1="363.6" y1="544.3" x2="414.8" y2="544.3" stroke="#231815" stroke-width="1.3" />
<line x1="382.3" y1="520.5" x2="382.3" y2="544.3" stroke="#231815" stroke-width="1.3" />
<line x1="389.3" y1="520.5" x2="389.3" y2="544.3" stroke="#231815" stroke-width="1.3" />
<line x1="414.8" y1="520.5" x2="414.8" y2="544.3" stroke="#231815" stroke-width="1.3" />
<circle cx="402.1" cy="532.4" r="12.2" fill="none" stroke="#231815" stroke-width="1.3"/>
<path d="M400.5,520.4999999999999V530.8H390.20000000000005M390.20000000000005,534.0H400.5V544.3000000000001M403.70000000000005,544.3000000000001V534.0H414.0M414.0,530.8H403.70000000000005V520.4999999999999" fill="none" stroke="#231815" stroke-width="1.3"/>
<text x="0" y="0" font-size="16.5" fill="#231815" font-weight="bold" text-anchor="middle" font-family='"Liberation Sans", sans-serif' transform="translate(373.7,535.3) scale(0.8,1.0)">12</text>
<line x1="536.7" y1="520.5" x2="643.3" y2="520.5" stroke="#231815" stroke-width="1.3" />
<line x1="536.7" y1="544.3" x2="643.3" y2="544.3" stroke="#231815" stroke-width="1.3" />
<line x1="556" y1="520.5" x2="556" y2="544.3" stroke="#231815" stroke-width="1.3" />
<line x1="562.5" y1="520.5" x2="562.5" y2="544.3" stroke="#231815" stroke-width="1.3" />
<line x1="587.6" y1="520.5" x2="587.6" y2="544.3" stroke="#231815" stroke-width="1.3" />
<line x1="592" y1="520.5" x2="592" y2="544.3" stroke="#231815" stroke-width="1.3" />
<line x1="616.7" y1="520.5" x2="616.7" y2="544.3" stroke="#231815" stroke-width="1.3" />
<line x1="624" y1="520.5" x2="624" y2="544.3" stroke="#231815" stroke-width="1.3" />
<circle cx="575.1" cy="532.4" r="12.3" fill="none" stroke="#231815" stroke-width="1.3"/>
<path d="M573.5,520.4V530.8H563.1M563.1,534.0H573.5V544.4M576.7,544.4V534.0H587.1M587.1,530.8H576.7V520.4" fill="none" stroke="#231815" stroke-width="1.3"/>
<circle cx="604.4" cy="532.4" r="12.3" fill="none" stroke="#231815" stroke-width="1.3"/>
<path d="M602.8,520.4V530.8H592.4M592.4,534.0H602.8V544.4M606.0,544.4V534.0H616.4M616.4,530.8H606.0V520.4" fill="none" stroke="#231815" stroke-width="1.3"/>
<text x="0" y="0" font-size="14" fill="#231815" font-weight="bold" text-anchor="middle" font-family='"Liberation Sans", sans-serif' transform="translate(546.1,537.1) scale(0.9,1.0)">36</text>
<text x="0" y="0" font-size="14" fill="#231815" font-weight="bold" text-anchor="middle" font-family='"Liberation Sans", sans-serif' transform="translate(633.4,534.7) scale(0.86,1.0)">24</text>
<line x1="523.7" y1="254.6" x2="531" y2="254.6" stroke="#231815" stroke-width="1.3" />
<polyline points="570,219 493,219 493,574.4 818.6,574.4 818.6,687.4 805.5,687.4" fill="none" stroke="#009a44" stroke-width="2.3" stroke-linejoin="round"/>
<polyline points="570,247 511,247 511,561.3 831.3,561.3 831.3,699.6 805.5,699.6" fill="none" stroke="#009a44" stroke-width="2.3" stroke-linejoin="round"/>
<polyline points="610,481 685,481 685,268.5 809.6,268.5 822.3,288.6" fill="none" stroke="#e4007f" stroke-width="2.4" stroke-linejoin="miter" />
<polyline points="610,509.6 698.8,509.6 698.8,273.4 801,273.4 810.2,288.6" fill="none" stroke="#00a0e9" stroke-width="2.4" stroke-linejoin="miter" />
<polyline points="610,539 712,539 712,278.8 795.2,278.8 799,288.6" fill="none" stroke="#00a0e9" stroke-width="2.4" stroke-linejoin="miter" />
<rect x="744.9" y="259.3" width="7.7" height="27" rx="2.5" fill="none" stroke="#3e3a39" stroke-width="0.9"/>
<line x1="745.5" y1="267" x2="752" y2="267" stroke="#3e3a39" stroke-width="0.9" />
<line x1="745.5" y1="279" x2="752" y2="279" stroke="#3e3a39" stroke-width="0.9" />
<rect x="754.3" y="254.7" width="30.2" height="31.8" fill="none" stroke="#3e3a39" stroke-width="0.9" />
<path d="M759,254.7 V251.5 H771 V254.7" fill="none" stroke="#3e3a39" stroke-width="0.9"/>
<path d="M760,251.5 Q765,245 770,251.5" fill="none" stroke="#3e3a39" stroke-width="0.9"/>
<path d="M784.5,248 Q789,268 784.5,288 L784.5,298.5 L843.9,298.5 L843.9,286" fill="none" stroke="#3e3a39" stroke-width="0.9"/>
<path d="M784.5,298.5 L797.2,312 M843.9,298.5 L831,312 M791,298.5 L799,312 M837,298.5 L829,312" fill="none" stroke="#3e3a39" stroke-width="0.9"/>
<rect x="797.2" y="312" width="33.9" height="18.3" fill="none" stroke="#3e3a39" stroke-width="0.9" />
<line x1="800.5" y1="312" x2="800.5" y2="330.3" stroke="#3e3a39" stroke-width="0.9" />
<rect x="823.4" y="314" width="7.6" height="13.5" fill="none" stroke="#3e3a39" stroke-width="0.9" />
<circle cx="826.5" cy="321" r="1.3" fill="#3e3a39"/>
<line x1="807.4" y1="298.5" x2="807.4" y2="330.3" stroke="#3e3a39" stroke-width="0.9" />
<line x1="811.7" y1="298.5" x2="811.7" y2="330.3" stroke="#3e3a39" stroke-width="0.9" />
<line x1="816.5" y1="298.5" x2="816.5" y2="330.3" stroke="#3e3a39" stroke-width="0.9" />
<g transform="translate(776.2,241.7) rotate(33.7)" fill="none" stroke="#3e3a39" stroke-width="0.9">
<path d="M5,-9.8 Q7,-18.1 18,-18.1 L76,-18.1 Q86,-18.1 87.5,-9.8" fill="#dfdddf"/>
<path d="M19,-15.8 L76,-15.8"/>
<rect x="0" y="-9.8" width="92.2" height="9.8" fill="#dfdddf"/>
<path d="M4,-7.4 H88"/>
<path d="M12.0,-7.4 q3,3.7 0,7.4"/>
<path d="M23.3,-7.4 q3,3.7 0,7.4"/>
<path d="M34.6,-7.4 q3,3.7 0,7.4"/>
<path d="M45.900000000000006,-7.4 q3,3.7 0,7.4"/>
<path d="M57.2,-7.4 q3,3.7 0,7.4"/>
<path d="M68.5,-7.4 q3,3.7 0,7.4"/>
<path d="M79.80000000000001,-7.4 q3,3.7 0,7.4"/>
<path d="M91.10000000000001,-7.4 q3,3.7 0,7.4"/>
<path d="M33,-18.1 A5 5 0 0 1 43,-18.1 Z" fill="#dfdddf"/>
<path d="M38,-18.1 L36,-22.5 M38,-18.1 L40,-22.5 M38,-18.1 L38,-23"/>
<rect x="50" y="-21.8" width="10.5" height="3.7" fill="#dfdddf"/>
</g>
<path d="M749,246 C742,245 736,241 738,236 C740,232 748,231 758,231 L805,230.6" fill="none" stroke="#3e3a39" stroke-width="1" stroke-dasharray="1.2,2.2"/>
<circle cx="751.5" cy="247" r="2.8" fill="none" stroke="#3e3a39" stroke-width="0.9"/>
<circle cx="808.4" cy="230.6" r="3" fill="none" stroke="#3e3a39" stroke-width="0.9"/>
<line x1="753" y1="249" x2="760" y2="254" stroke="#3e3a39" stroke-width="0.9" />
<line x1="810.5" y1="233" x2="818" y2="239.5" stroke="#3e3a39" stroke-width="0.9" />
<circle cx="799" cy="288.6" r="2.2" fill="#231815"/>
<circle cx="810.2" cy="288.6" r="2.2" fill="#231815"/>
<circle cx="822.3" cy="288.6" r="2.2" fill="#231815"/>
<path d="M799,288.6 L805,298.5 M810.2,288.6 L811.5,298.5 M822.3,288.6 L817,298.5" fill="none" stroke="#3e3a39" stroke-width="0.9"/>
<path d="M803.4,330.3 V485 M822.9,330.3 V485" fill="none" stroke="#3e3a39" stroke-width="0.9"/>
<line x1="807.4" y1="330.3" x2="807.4" y2="485" stroke="#3e3a39" stroke-width="0.9" />
<line x1="811.7" y1="330.3" x2="811.7" y2="485" stroke="#3e3a39" stroke-width="0.9" />
<line x1="816.5" y1="330.3" x2="816.5" y2="485" stroke="#3e3a39" stroke-width="0.9" />
<path d="M803.4,485.5 q5,-2 9,0 q5,2 10.5,-0.5" fill="none" stroke="#3e3a39" stroke-width="0.9"/>
<path d="M803.4,490.5 q5,-2 9,0 q5,2 10.5,-0.5" fill="none" stroke="#3e3a39" stroke-width="0.9"/>
<path d="M803.4,490.5 V538 A9.75 8 0 0 0 822.9,538 V490.5" fill="none" stroke="#3e3a39" stroke-width="0.9"/>
<path d="M807.4,490.5 V540.5 H811.7 V490.5 M816.5,490.5 V527 l1.5,1.5 -3,1.5 3,1.5 -3,1.5 3,1.5 -3,1.5 1.5,1.5" fill="none" stroke="#3e3a39" stroke-width="0.8"/>
<polyline points="873.3,295.8 865.5,295.8 865.5,304.0" fill="none" stroke="#6d6a6a" stroke-width="1.3" stroke-linejoin="miter" />
<polyline points="966.7,295.8 974.5,295.8 974.5,304.0" fill="none" stroke="#6d6a6a" stroke-width="1.3" stroke-linejoin="miter" />
<polyline points="873.3,567.3 865.5,567.3 865.5,559.0999999999999" fill="none" stroke="#6d6a6a" stroke-width="1.3" stroke-linejoin="miter" />
<polyline points="966.7,567.3 974.5,567.3 974.5,559.0999999999999" fill="none" stroke="#6d6a6a" stroke-width="1.3" stroke-linejoin="miter" />
<line x1="892.2" y1="295.8" x2="910.6" y2="295.8" stroke="#6d6a6a" stroke-width="1.3" />
<line x1="892.2" y1="567.3" x2="910.6" y2="567.3" stroke="#6d6a6a" stroke-width="1.3" />
<line x1="929.3" y1="295.8" x2="947.6999999999999" y2="295.8" stroke="#6d6a6a" stroke-width="1.3" />
<line x1="929.3" y1="567.3" x2="947.6999999999999" y2="567.3" stroke="#6d6a6a" stroke-width="1.3" />
<line x1="865.5" y1="321.1" x2="865.5" y2="337.5" stroke="#6d6a6a" stroke-width="1.3" />
<line x1="974.5" y1="321.1" x2="974.5" y2="337.5" stroke="#6d6a6a" stroke-width="1.3" />
<line x1="865.5" y1="355.20000000000005" x2="865.5" y2="371.6" stroke="#6d6a6a" stroke-width="1.3" />
<line x1="974.5" y1="355.20000000000005" x2="974.5" y2="371.6" stroke="#6d6a6a" stroke-width="1.3" />
<line x1="865.5" y1="389.3" x2="865.5" y2="405.7" stroke="#6d6a6a" stroke-width="1.3" />
<line x1="974.5" y1="389.3" x2="974.5" y2="405.7" stroke="#6d6a6a" stroke-width="1.3" />
<line x1="865.5" y1="423.40000000000003" x2="865.5" y2="439.8" stroke="#6d6a6a" stroke-width="1.3" />
<line x1="974.5" y1="423.40000000000003" x2="974.5" y2="439.8" stroke="#6d6a6a" stroke-width="1.3" />
<line x1="865.5" y1="457.5" x2="865.5" y2="473.9" stroke="#6d6a6a" stroke-width="1.3" />
<line x1="974.5" y1="457.5" x2="974.5" y2="473.9" stroke="#6d6a6a" stroke-width="1.3" />
<line x1="865.5" y1="491.6" x2="865.5" y2="508.0" stroke="#6d6a6a" stroke-width="1.3" />
<line x1="974.5" y1="491.6" x2="974.5" y2="508.0" stroke="#6d6a6a" stroke-width="1.3" />
<line x1="865.5" y1="525.7" x2="865.5" y2="542.1" stroke="#6d6a6a" stroke-width="1.3" />
<line x1="974.5" y1="525.7" x2="974.5" y2="542.1" stroke="#6d6a6a" stroke-width="1.3" />
<line x1="875.8" y1="325" x2="916.7" y2="325" stroke="#231815" stroke-width="1.4" />
<line x1="875.8" y1="344.7" x2="916.7" y2="344.7" stroke="#231815" stroke-width="1.4" />
<line x1="891.3" y1="325" x2="891.3" y2="344.7" stroke="#231815" stroke-width="1.4" />
<line x1="896" y1="325" x2="896" y2="344.7" stroke="#231815" stroke-width="1.4" />
<line x1="916.7" y1="325" x2="916.7" y2="344.7" stroke="#231815" stroke-width="1.4" />
<circle cx="906.35" cy="334.85" r="10.050000000000022" fill="none" stroke="#231815" stroke-width="1.25"/>
<path d="M904.95,325.1V333.45000000000005H896.5999999999999M896.5999999999999,336.25H904.95V344.6M907.75,344.6V336.25H916.1000000000001M916.1000000000001,333.45000000000005H907.75V325.1" fill="none" stroke="#231815" stroke-width="1.25"/>
<line x1="875.8" y1="348.7" x2="916.7" y2="348.7" stroke="#231815" stroke-width="1.4" />
<line x1="875.8" y1="368.0" x2="916.7" y2="368.0" stroke="#231815" stroke-width="1.4" />
<line x1="891.3" y1="348.7" x2="891.3" y2="368.0" stroke="#231815" stroke-width="1.4" />
<line x1="896" y1="348.7" x2="896" y2="368.0" stroke="#231815" stroke-width="1.4" />
<line x1="916.7" y1="348.7" x2="916.7" y2="368.0" stroke="#231815" stroke-width="1.4" />
<circle cx="906.35" cy="358.34999999999997" r="10.050000000000022" fill="none" stroke="#231815" stroke-width="1.25"/>
<path d="M904.95,348.59999999999997V356.95H896.5999999999999M896.5999999999999,359.74999999999994H904.95V368.09999999999997M907.75,368.09999999999997V359.74999999999994H916.1000000000001M916.1000000000001,356.95H907.75V348.59999999999997" fill="none" stroke="#231815" stroke-width="1.25"/>
<line x1="916.7" y1="335.6" x2="938" y2="335.6" stroke="#231815" stroke-width="1.1" />
<circle cx="940.2" cy="335.6" r="2.2" fill="none" stroke="#231815" stroke-width="1.1"/>
<line x1="916.7" y1="358.8" x2="938" y2="358.8" stroke="#231815" stroke-width="1.1" />
<circle cx="940.2" cy="358.8" r="2.2" fill="none" stroke="#231815" stroke-width="1.1"/>
<line x1="876" y1="407.8" x2="914.9" y2="407.8" stroke="#231815" stroke-width="1.4" />
<line x1="876" y1="426.8" x2="914.9" y2="426.8" stroke="#231815" stroke-width="1.4" />
<line x1="890.5" y1="407.8" x2="890.5" y2="426.8" stroke="#231815" stroke-width="1.4" />
<line x1="895.5" y1="407.8" x2="895.5" y2="426.8" stroke="#231815" stroke-width="1.4" />
<line x1="914.9" y1="407.8" x2="914.9" y2="426.8" stroke="#231815" stroke-width="1.4" />
<circle cx="905.2" cy="417.3" r="9.399999999999988" fill="none" stroke="#231815" stroke-width="1.25"/>
<path d="M903.8000000000001,408.20000000000005V415.90000000000003H896.1M896.1,418.7H903.8000000000001V426.4M906.6,426.4V418.7H914.3000000000001M914.3000000000001,415.90000000000003H906.6V408.20000000000005" fill="none" stroke="#231815" stroke-width="1.25"/>
<line x1="876" y1="430.2" x2="914.9" y2="430.2" stroke="#231815" stroke-width="1.4" />
<line x1="876" y1="449.2" x2="914.9" y2="449.2" stroke="#231815" stroke-width="1.4" />
<line x1="890.5" y1="430.2" x2="890.5" y2="449.2" stroke="#231815" stroke-width="1.4" />
<line x1="895.5" y1="430.2" x2="895.5" y2="449.2" stroke="#231815" stroke-width="1.4" />
<line x1="914.9" y1="430.2" x2="914.9" y2="449.2" stroke="#231815" stroke-width="1.4" />
<circle cx="905.2" cy="439.7" r="9.399999999999988" fill="none" stroke="#231815" stroke-width="1.25"/>
<path d="M903.8000000000001,430.6V438.3H896.1M896.1,441.09999999999997H903.8000000000001V448.79999999999995M906.6,448.79999999999995V441.09999999999997H914.3000000000001M914.3000000000001,438.3H906.6V430.6" fill="none" stroke="#231815" stroke-width="1.25"/>
<line x1="914.9" y1="417.6" x2="932" y2="417.6" stroke="#231815" stroke-width="1.1" />
<circle cx="932" cy="417.6" r="1.6" fill="#231815"/>
<line x1="914.9" y1="441.3" x2="932" y2="441.3" stroke="#231815" stroke-width="1.1" />
<circle cx="932" cy="441.3" r="1.6" fill="#231815"/>
<line x1="922.4" y1="448.6" x2="928.3" y2="448.6" stroke="#231815" stroke-width="1.2" />
<line x1="878.4" y1="487.6" x2="920.4" y2="487.6" stroke="#231815" stroke-width="1.4" />
<line x1="878.4" y1="507.3" x2="920.4" y2="507.3" stroke="#231815" stroke-width="1.4" />
<line x1="894.4" y1="487.6" x2="894.4" y2="507.3" stroke="#231815" stroke-width="1.4" />
<line x1="899.7" y1="487.6" x2="899.7" y2="507.3" stroke="#231815" stroke-width="1.4" />
<line x1="920.4" y1="487.6" x2="920.4" y2="507.3" stroke="#231815" stroke-width="1.4" />
<circle cx="910.05" cy="497.45000000000005" r="10.049999999999965" fill="none" stroke="#231815" stroke-width="1.25"/>
<path d="M908.65,487.7000000000001V496.05000000000007H900.3M900.3,498.85H908.65V507.2M911.4499999999999,507.2V498.85H919.8M919.8,496.05000000000007H911.4499999999999V487.7000000000001" fill="none" stroke="#231815" stroke-width="1.25"/>
<line x1="878.4" y1="511.5" x2="920.4" y2="511.5" stroke="#231815" stroke-width="1.4" />
<line x1="878.4" y1="531.6" x2="920.4" y2="531.6" stroke="#231815" stroke-width="1.4" />
<line x1="894.4" y1="511.5" x2="894.4" y2="531.6" stroke="#231815" stroke-width="1.4" />
<line x1="899.7" y1="511.5" x2="899.7" y2="531.6" stroke="#231815" stroke-width="1.4" />
<line x1="920.4" y1="511.5" x2="920.4" y2="531.6" stroke="#231815" stroke-width="1.4" />
<circle cx="910.05" cy="521.55" r="10.049999999999965" fill="none" stroke="#231815" stroke-width="1.25"/>
<path d="M908.65,511.8V520.15H900.3M900.3,522.9499999999999H908.65V531.3M911.4499999999999,531.3V522.9499999999999H919.8M919.8,520.15H911.4499999999999V511.8" fill="none" stroke="#231815" stroke-width="1.25"/>
<line x1="878.4" y1="535.8" x2="920.4" y2="535.8" stroke="#231815" stroke-width="1.4" />
<line x1="878.4" y1="556.5999999999999" x2="920.4" y2="556.5999999999999" stroke="#231815" stroke-width="1.4" />
<line x1="894.4" y1="535.8" x2="894.4" y2="556.5999999999999" stroke="#231815" stroke-width="1.4" />
<line x1="899.7" y1="535.8" x2="899.7" y2="556.5999999999999" stroke="#231815" stroke-width="1.4" />
<line x1="920.4" y1="535.8" x2="920.4" y2="556.5999999999999" stroke="#231815" stroke-width="1.4" />
<circle cx="910.05" cy="546.1999999999999" r="10.049999999999965" fill="none" stroke="#231815" stroke-width="1.25"/>
<path d="M908.65,536.4499999999999V544.8H900.3M900.3,547.5999999999999H908.65V555.9499999999999M911.4499999999999,555.9499999999999V547.5999999999999H919.8M919.8,544.8H911.4499999999999V536.4499999999999" fill="none" stroke="#231815" stroke-width="1.25"/>
<polyline points="920.4,497.5 933.5,497.5 933.5,501.4" fill="none" stroke="#231815" stroke-width="1.1" stroke-linejoin="miter" />
<rect x="930.9" y="501.4" width="5.5" height="17.7" fill="#f4f4f4" stroke="#231815" stroke-width="1.1" />
<polyline points="933.5,519.1 933.5,546.3 920.4,546.3" fill="none" stroke="#231815" stroke-width="1.1" stroke-linejoin="miter" />
<polyline points="920.4,521.4 927.6,521.4 927.6,533.6 933.5,533.6" fill="none" stroke="#231815" stroke-width="1.1" stroke-linejoin="miter" />
<rect x="40.8" y="600.2" width="317.4" height="92.6" fill="none" stroke="#2a2523" stroke-width="1.4" />
<line x1="43.8" y1="600.2" x2="43.8" y2="692.8" stroke="#6f6b6b" stroke-width="0.8" />
<line x1="80.3" y1="600.2" x2="80.3" y2="692.8" stroke="#6f6b6b" stroke-width="0.8" />
<line x1="82.6" y1="600.2" x2="82.6" y2="692.8" stroke="#2a2523" stroke-width="1.3" />
<rect x="160.6" y="630" width="117.8" height="37.1" rx="18.5" fill="#8c8b8b"/>
<line x1="175.3" y1="600" x2="175.3" y2="647" stroke="#231815" stroke-width="1.8" />
<rect x="91.2" y="627.4" width="40.1" height="42.2" fill="none" stroke="#2a2523" stroke-width="1.3" />
<circle cx="111.30000000000001" cy="648.8" r="16.7" fill="none" stroke="#2a2523" stroke-width="1.4"/>
<path d="M108.50000000000001,632.3999999999999V646.0H94.9M94.9,651.5999999999999H108.50000000000001V665.2M114.10000000000001,665.2V651.5999999999999H127.7M127.7,646.0H114.10000000000001V632.3999999999999" fill="none" stroke="#2a2523" stroke-width="1.4"/>
<rect x="163.3" y="627.4" width="40.1" height="42.2" fill="none" stroke="#2a2523" stroke-width="1.3" />
<circle cx="183.4" cy="648.8" r="16.7" fill="none" stroke="#2a2523" stroke-width="1.4"/>
<path d="M180.6,632.3999999999999V646.0H167.00000000000003M167.00000000000003,651.5999999999999H180.6V665.2M186.20000000000002,665.2V651.5999999999999H199.79999999999998M199.79999999999998,646.0H186.20000000000002V632.3999999999999" fill="none" stroke="#2a2523" stroke-width="1.4"/>
<rect x="235.6" y="627.4" width="40.1" height="42.2" fill="none" stroke="#2a2523" stroke-width="1.3" />
<circle cx="255.7" cy="648.8" r="16.7" fill="none" stroke="#2a2523" stroke-width="1.4"/>
<path d="M252.89999999999998,632.3999999999999V646.0H239.3M239.3,651.5999999999999H252.89999999999998V665.2M258.5,665.2V651.5999999999999H272.09999999999997M272.09999999999997,646.0H258.5V632.3999999999999" fill="none" stroke="#2a2523" stroke-width="1.4"/>
<line x1="175.3" y1="627" x2="175.3" y2="647" stroke="#231815" stroke-width="1.8" />
<line x1="282.4" y1="600.2" x2="282.4" y2="692.8" stroke="#2a2523" stroke-width="1.3" />
<line x1="306.4" y1="600.2" x2="306.4" y2="692.8" stroke="#2a2523" stroke-width="1.3" />
<line x1="317.2" y1="600.2" x2="317.2" y2="692.8" stroke="#2a2523" stroke-width="1.6" />
<line x1="319.6" y1="600.2" x2="319.6" y2="692.8" stroke="#6f6b6b" stroke-width="0.8" />
<line x1="355.6" y1="600.2" x2="355.6" y2="692.8" stroke="#6f6b6b" stroke-width="0.8" />
<line x1="282.4" y1="643.5" x2="306.4" y2="643.5" stroke="#2a2523" stroke-width="1.3" />
<line x1="282.4" y1="651" x2="306.4" y2="651" stroke="#2a2523" stroke-width="1.3" />
<rect x="287.3" y="613.8" width="12.8" height="5.6" fill="#8c8b8b" stroke="#2a2523" stroke-width="1.3" />
<rect x="287.3" y="630.5" width="12.8" height="5.6" fill="#8c8b8b" stroke="#2a2523" stroke-width="1.3" />
<rect x="287.3" y="660.5" width="12.8" height="5.6" fill="#8c8b8b" stroke="#2a2523" stroke-width="1.3" />
<rect x="287.3" y="676.3" width="12.8" height="5.6" fill="#8c8b8b" stroke="#2a2523" stroke-width="1.3" />
<text x="0" y="0" font-size="8.8" fill="#231815" stroke="#231815" stroke-width="0.3" font-family='"Liberation Sans", sans-serif' text-anchor="middle" textLength="9.5" lengthAdjust="spacingAndGlyphs" transform="translate(315.2,615.2) rotate(-90)">K2</text>
<text x="0" y="0" font-size="8.8" fill="#231815" stroke="#231815" stroke-width="0.3" font-family='"Liberation Sans", sans-serif' text-anchor="middle" textLength="9.5" lengthAdjust="spacingAndGlyphs" transform="translate(315.2,640.4) rotate(-90)">G2</text>
<text x="0" y="0" font-size="8.8" fill="#231815" stroke="#231815" stroke-width="0.3" font-family='"Liberation Sans", sans-serif' text-anchor="middle" textLength="9.5" lengthAdjust="spacingAndGlyphs" transform="translate(315.2,656.8) rotate(-90)">G1</text>
<text x="0" y="0" font-size="8.8" fill="#231815" stroke="#231815" stroke-width="0.3" font-family='"Liberation Sans", sans-serif' text-anchor="middle" textLength="9.5" lengthAdjust="spacingAndGlyphs" transform="translate(315.2,679.7) rotate(-90)">K1</text>
<polyline points="293.7,633.2 478.2,633.2 478.2,637.3 493.3,637.3" fill="none" stroke="#009a44" stroke-width="2.4" stroke-linejoin="miter" />
<polyline points="293.7,664.2 464.5,664.2 464.5,649.2 493.3,649.2" fill="none" stroke="#009a44" stroke-width="2.4" stroke-linejoin="miter" />
<circle cx="403.6" cy="632.9" r="4.3" fill="#231815"/>
<circle cx="403.6" cy="664.1" r="4.3" fill="#231815"/>
<rect x="524.6" y="584.3" width="252.1" height="168.9" fill="none" stroke="#2a2523" stroke-width="1.3" />
<rect x="512" y="594.8" width="12.6" height="12.3" fill="none" stroke="#2a2523" stroke-width="1.3" />
<text x="0" y="0" font-size="11.6" fill="#2a2523" stroke="#2a2523" stroke-width="0.2" font-family='"Liberation Sans", sans-serif' text-anchor="middle" textLength="10.2" lengthAdjust="spacingAndGlyphs" transform="translate(514.3,600.9499999999999) rotate(90)">24</text>
<rect x="776.7" y="594.8" width="13" height="12.3" fill="none" stroke="#2a2523" stroke-width="1.3" />
<text x="0" y="0" font-size="11.6" fill="#2a2523" stroke="#2a2523" stroke-width="0.2" font-family='"Liberation Sans", sans-serif' text-anchor="middle" textLength="10.2" lengthAdjust="spacingAndGlyphs" transform="translate(779.2,600.9499999999999) rotate(90)">12</text>
<rect x="512" y="607.0999999999999" width="12.6" height="12.3" fill="none" stroke="#2a2523" stroke-width="1.3" />
<text x="0" y="0" font-size="11.6" fill="#2a2523" stroke="#2a2523" stroke-width="0.2" font-family='"Liberation Sans", sans-serif' text-anchor="middle" textLength="10.2" lengthAdjust="spacingAndGlyphs" transform="translate(514.3,613.2499999999999) rotate(90)">23</text>
<rect x="776.7" y="607.0999999999999" width="13" height="12.3" fill="none" stroke="#2a2523" stroke-width="1.3" />
<text x="0" y="0" font-size="11.6" fill="#2a2523" stroke="#2a2523" stroke-width="0.2" font-family='"Liberation Sans", sans-serif' text-anchor="middle" textLength="10.2" lengthAdjust="spacingAndGlyphs" transform="translate(779.2,613.2499999999999) rotate(90)">11</text>
<rect x="512" y="619.4" width="12.6" height="12.3" fill="none" stroke="#2a2523" stroke-width="1.3" />
<text x="0" y="0" font-size="11.6" fill="#2a2523" stroke="#2a2523" stroke-width="0.2" font-family='"Liberation Sans", sans-serif' text-anchor="middle" textLength="10.2" lengthAdjust="spacingAndGlyphs" transform="translate(514.3,625.55) rotate(90)">22</text>
<rect x="776.7" y="619.4" width="13" height="12.3" fill="none" stroke="#2a2523" stroke-width="1.3" />
<text x="0" y="0" font-size="11.6" fill="#2a2523" stroke="#2a2523" stroke-width="0.2" font-family='"Liberation Sans", sans-serif' text-anchor="middle" textLength="10.2" lengthAdjust="spacingAndGlyphs" transform="translate(779.2,625.55) rotate(90)">10</text>
<rect x="512" y="631.6999999999999" width="12.6" height="12.3" fill="none" stroke="#2a2523" stroke-width="1.3" />
<text x="0" y="0" font-size="11.6" fill="#2a2523" stroke="#2a2523" stroke-width="0.2" font-family='"Liberation Sans", sans-serif' text-anchor="middle" textLength="10.2" lengthAdjust="spacingAndGlyphs" transform="translate(514.3,637.8499999999999) rotate(90)">21</text>
<rect x="776.7" y="631.6999999999999" width="13" height="12.3" fill="none" stroke="#2a2523" stroke-width="1.3" />
<text x="0" y="0" font-size="11.6" fill="#2a2523" stroke="#2a2523" stroke-width="0.2" font-family='"Liberation Sans", sans-serif' text-anchor="middle"  transform="translate(779.2,637.8499999999999) rotate(90)">9</text>
<rect x="512" y="644.0" width="12.6" height="12.3" fill="none" stroke="#2a2523" stroke-width="1.3" />
<text x="0" y="0" font-size="11.6" fill="#2a2523" stroke="#2a2523" stroke-width="0.2" font-family='"Liberation Sans", sans-serif' text-anchor="middle" textLength="10.2" lengthAdjust="spacingAndGlyphs" transform="translate(514.3,650.15) rotate(90)">20</text>
<rect x="776.7" y="644.0" width="13" height="12.3" fill="none" stroke="#2a2523" stroke-width="1.3" />
<text x="0" y="0" font-size="11.6" fill="#2a2523" stroke="#2a2523" stroke-width="0.2" font-family='"Liberation Sans", sans-serif' text-anchor="middle"  transform="translate(779.2,650.15) rotate(90)">8</text>
<rect x="512" y="656.3" width="12.6" height="12.3" fill="none" stroke="#2a2523" stroke-width="1.3" />
<text x="0" y="0" font-size="11.6" fill="#2a2523" stroke="#2a2523" stroke-width="0.2" font-family='"Liberation Sans", sans-serif' text-anchor="middle" textLength="10.2" lengthAdjust="spacingAndGlyphs" transform="translate(514.3,662.4499999999999) rotate(90)">19</text>
<rect x="776.7" y="656.3" width="13" height="12.3" fill="none" stroke="#2a2523" stroke-width="1.3" />
<text x="0" y="0" font-size="11.6" fill="#2a2523" stroke="#2a2523" stroke-width="0.2" font-family='"Liberation Sans", sans-serif' text-anchor="middle"  transform="translate(779.2,662.4499999999999) rotate(90)">7</text>
<rect x="512" y="668.5999999999999" width="12.6" height="12.3" fill="none" stroke="#2a2523" stroke-width="1.3" />
<text x="0" y="0" font-size="11.6" fill="#2a2523" stroke="#2a2523" stroke-width="0.2" font-family='"Liberation Sans", sans-serif' text-anchor="middle" textLength="10.2" lengthAdjust="spacingAndGlyphs" transform="translate(514.3,674.7499999999999) rotate(90)">18</text>
<rect x="776.7" y="668.5999999999999" width="13" height="12.3" fill="none" stroke="#2a2523" stroke-width="1.3" />
<text x="0" y="0" font-size="11.6" fill="#2a2523" stroke="#2a2523" stroke-width="0.2" font-family='"Liberation Sans", sans-serif' text-anchor="middle"  transform="translate(779.2,674.7499999999999) rotate(90)">6</text>
<rect x="512" y="680.9" width="12.6" height="12.3" fill="none" stroke="#2a2523" stroke-width="1.3" />
<text x="0" y="0" font-size="11.6" fill="#2a2523" stroke="#2a2523" stroke-width="0.2" font-family='"Liberation Sans", sans-serif' text-anchor="middle" textLength="10.2" lengthAdjust="spacingAndGlyphs" transform="translate(514.3,687.05) rotate(90)">17</text>
<rect x="776.7" y="680.9" width="13" height="12.3" fill="none" stroke="#2a2523" stroke-width="1.3" />
<text x="0" y="0" font-size="11.6" fill="#2a2523" stroke="#2a2523" stroke-width="0.2" font-family='"Liberation Sans", sans-serif' text-anchor="middle"  transform="translate(779.2,687.05) rotate(90)">5</text>
<rect x="512" y="693.1999999999999" width="12.6" height="12.3" fill="none" stroke="#2a2523" stroke-width="1.3" />
<text x="0" y="0" font-size="11.6" fill="#2a2523" stroke="#2a2523" stroke-width="0.2" font-family='"Liberation Sans", sans-serif' text-anchor="middle" textLength="10.2" lengthAdjust="spacingAndGlyphs" transform="translate(514.3,699.3499999999999) rotate(90)">16</text>
<rect x="776.7" y="693.1999999999999" width="13" height="12.3" fill="none" stroke="#2a2523" stroke-width="1.3" />
<text x="0" y="0" font-size="11.6" fill="#2a2523" stroke="#2a2523" stroke-width="0.2" font-family='"Liberation Sans", sans-serif' text-anchor="middle"  transform="translate(779.2,699.3499999999999) rotate(90)">4</text>
<rect x="512" y="705.5" width="12.6" height="12.3" fill="none" stroke="#2a2523" stroke-width="1.3" />
<text x="0" y="0" font-size="11.6" fill="#2a2523" stroke="#2a2523" stroke-width="0.2" font-family='"Liberation Sans", sans-serif' text-anchor="middle" textLength="10.2" lengthAdjust="spacingAndGlyphs" transform="translate(514.3,711.65) rotate(90)">15</text>
<rect x="776.7" y="705.5" width="13" height="12.3" fill="none" stroke="#2a2523" stroke-width="1.3" />
<text x="0" y="0" font-size="11.6" fill="#2a2523" stroke="#2a2523" stroke-width="0.2" font-family='"Liberation Sans", sans-serif' text-anchor="middle"  transform="translate(779.2,711.65) rotate(90)">3</text>
<rect x="512" y="717.8" width="12.6" height="12.3" fill="none" stroke="#2a2523" stroke-width="1.3" />
<text x="0" y="0" font-size="11.6" fill="#2a2523" stroke="#2a2523" stroke-width="0.2" font-family='"Liberation Sans", sans-serif' text-anchor="middle" textLength="10.2" lengthAdjust="spacingAndGlyphs" transform="translate(514.3,723.9499999999999) rotate(90)">14</text>
<rect x="776.7" y="717.8" width="13" height="12.3" fill="none" stroke="#2a2523" stroke-width="1.3" />
<text x="0" y="0" font-size="11.6" fill="#2a2523" stroke="#2a2523" stroke-width="0.2" font-family='"Liberation Sans", sans-serif' text-anchor="middle"  transform="translate(779.2,723.9499999999999) rotate(90)">2</text>
<rect x="512" y="730.0999999999999" width="12.6" height="12.3" fill="none" stroke="#2a2523" stroke-width="1.3" />
<text x="0" y="0" font-size="11.6" fill="#2a2523" stroke="#2a2523" stroke-width="0.2" font-family='"Liberation Sans", sans-serif' text-anchor="middle" textLength="10.2" lengthAdjust="spacingAndGlyphs" transform="translate(514.3,736.2499999999999) rotate(90)">13</text>
<rect x="776.7" y="730.0999999999999" width="13" height="12.3" fill="none" stroke="#2a2523" stroke-width="1.3" />
<text x="0" y="0" font-size="11.6" fill="#2a2523" stroke="#2a2523" stroke-width="0.2" font-family='"Liberation Sans", sans-serif' text-anchor="middle"  transform="translate(779.2,736.2499999999999) rotate(90)">1</text>
<path d="M529,600.2 H558.2 Q562,668.5 558.2,737.3 H529 Z" fill="none" stroke="#2a2523" stroke-width="1.1"/>
<path d="M772.6,600 H743.6 L740.6,668.5 L743.6,737.6 H772.6 Z" fill="none" stroke="#2a2523" stroke-width="1.1"/>
<circle cx="650.6" cy="668.9" r="72.7" fill="none" stroke="#2a2523" stroke-width="1.1"/>
<path d="M625.35143568438,606.3 H637 V611.5 A13.35 13.35 0 0 0 663.7,611.5 V606.3 H675.84856431562 A67.5 67.5 0 0 1 675.84856431562,731.5 H663.7 V726.3 A13.35 13.35 0 0 0 637,726.3 V731.5 H625.35143568438 A67.5 67.5 0 0 1 625.35143568438,606.3 Z" fill="none" stroke="#2a2523" stroke-width="1.1"/>
<circle cx="650.5" cy="611.7" r="8" fill="none" stroke="#2a2523" stroke-width="1.1"/>
<circle cx="650.5" cy="611.7" r="4.8" fill="none" stroke="#2a2523" stroke-width="1.1"/>
<circle cx="650.5" cy="726.2" r="8" fill="none" stroke="#2a2523" stroke-width="1.1"/>
<circle cx="650.5" cy="726.2" r="4.8" fill="none" stroke="#2a2523" stroke-width="1.1"/>
<circle cx="666.2" cy="634.3" r="3.5" fill="none" stroke="#2a2523" stroke-width="1.1"/>
<circle cx="666.2" cy="654.2" r="3.5" fill="none" stroke="#2a2523" stroke-width="1.1"/>
<text x="0" y="0" font-size="8" fill="#231815" font-weight="bold" font-family='"Liberation Sans", sans-serif' text-anchor="middle" transform="translate(651,634) rotate(90)">运行</text>
<text x="0" y="0" font-size="8" fill="#231815" font-weight="bold" font-family='"Liberation Sans", sans-serif' text-anchor="middle" transform="translate(651,655) rotate(90)">报警</text>
<text x="0" y="0" font-size="8.2" fill="#231815" font-weight="bold" letter-spacing="2.6" font-family='"Liberation Sans", sans-serif' text-anchor="middle" transform="translate(679,672.8) rotate(90)">虹润</text>
<circle cx="696.9" cy="671.5" r="8.6" fill="#fff" stroke="#d7282f" stroke-width="0.9"/>
<circle cx="696.9" cy="671.5" r="7.2" fill="#d7282f"/>
<circle cx="697.6" cy="672.6" r="5.9" fill="#fff"/>
<text x="0" y="0" font-size="6.6" fill="#d7282f" font-weight="bold" font-family='"Liberation Sans", sans-serif' text-anchor="middle" transform="translate(695.5,672.6) rotate(90)">HR</text>
<circle cx="704.8" cy="678.8" r="0.8" fill="none" stroke="#d7282f" stroke-width="0.4"/>
<line x1="497.8" y1="637.3" x2="512" y2="637.3" stroke="#231815" stroke-width="1.1" />
<line x1="497.8" y1="649.4" x2="512" y2="649.4" stroke="#231815" stroke-width="1.1" />
<circle cx="495.6" cy="637.3" r="2.3" fill="#fff" stroke="#231815" stroke-width="1.1"/>
<circle cx="495.6" cy="649.4" r="2.3" fill="#fff" stroke="#231815" stroke-width="1.1"/>
<line x1="789.7" y1="687.3" x2="803.2" y2="687.3" stroke="#231815" stroke-width="1.1" />
<circle cx="805.5" cy="687.3" r="2.4" fill="#fff" stroke="#231815" stroke-width="1.1"/>
<line x1="789.7" y1="699.8" x2="803.2" y2="699.8" stroke="#231815" stroke-width="1.1" />
<circle cx="805.5" cy="699.8" r="2.4" fill="#fff" stroke="#231815" stroke-width="1.1"/>
<line x1="789.7" y1="723.6" x2="803.2" y2="723.6" stroke="#231815" stroke-width="1.1" />
<circle cx="805.5" cy="723.6" r="2.4" fill="#fff" stroke="#231815" stroke-width="1.1"/>
<line x1="789.7" y1="736" x2="803.2" y2="736" stroke="#231815" stroke-width="1.1" />
<circle cx="805.5" cy="736" r="2.4" fill="#fff" stroke="#231815" stroke-width="1.1"/>
<text x="0" y="0" font-size="13.63" fill="#231815" font-weight="normal" font-family='"Liberation Sans", sans-serif' stroke="#231815" stroke-width="0.120" transform="translate(463.86,211.93) scale(1.000,1)">控制输出</text>
<text x="0" y="0" font-size="13.27" fill="#231815" font-weight="normal" font-family='"Liberation Sans", sans-serif' stroke="#231815" stroke-width="0.262" transform="translate(523.04,213.69) scale(1.146,1)">+</text>
<text x="0" y="0" font-size="12.47" fill="#231815" font-weight="normal" font-family='"Liberation Sans", sans-serif' stroke="#231815" stroke-width="0.337" transform="translate(502.82,235.80) scale(0.890,1)">mA/V</text>
<text x="0" y="0" font-size="13.48" fill="#231815" font-weight="normal" font-family='"Liberation Sans", sans-serif' stroke="#231815" stroke-width="0.430" transform="translate(665.00,477.80) scale(0.697,1)">A</text>
<text x="0" y="0" font-size="10.43" fill="#231815" font-weight="normal" font-family='"Liberation Sans", sans-serif' stroke="#231815" stroke-width="0.307" transform="translate(664.38,502.90) scale(0.976,1)">B</text>
<text x="0" y="0" font-size="10.43" fill="#231815" font-weight="normal" font-family='"Liberation Sans", sans-serif' stroke="#231815" stroke-width="0.307" transform="translate(664.38,526.80) scale(0.976,1)">B</text>
<text x="0" y="0" font-size="16.28" fill="#231815" font-weight="normal" font-family='"Liberation Sans", sans-serif' stroke="#231815" stroke-width="0.120" transform="translate(744.51,210.88) scale(1.000,1)">三线制</text>
<text x="0" y="0" font-size="14.79" fill="#231815" font-weight="normal" font-family='"Liberation Sans", sans-serif' stroke="#231815" stroke-width="0.318" transform="translate(799.98,210.15) scale(0.944,1)">PT100</text>
<text x="0" y="0" font-size="13.30" fill="#231815" font-weight="normal" font-family='"Liberation Sans", sans-serif' stroke="#231815" stroke-width="0.120" transform="translate(874.73,317.99) scale(1.000,1)">工作电源</text>
<text x="0" y="0" font-size="11.30" fill="#231815" font-weight="normal" font-family='"Liberation Sans", sans-serif' stroke="#231815" stroke-width="0.257" transform="translate(924.95,332.50) scale(1.166,1)">L</text>
<text x="0" y="0" font-size="11.41" fill="#231815" font-weight="normal" font-family='"Liberation Sans", sans-serif' stroke="#231815" stroke-width="0.322" transform="translate(926.00,351.39) scale(0.931,1)">AC220V</text>
<text x="0" y="0" font-size="11.74" fill="#231815" font-weight="normal" font-family='"Liberation Sans", sans-serif' stroke="#231815" stroke-width="0.340" transform="translate(925.17,371.20) scale(0.882,1)">N</text>
<text x="0" y="0" font-size="13.58" fill="#231815" font-weight="normal" font-family='"Liberation Sans", sans-serif' stroke="#231815" stroke-width="0.120" transform="translate(874.86,398.77) scale(1.000,1)">控制输出</text>
<text x="0" y="0" font-size="12.82" fill="#231815" font-weight="normal" font-family='"Liberation Sans", sans-serif' stroke="#231815" stroke-width="0.431" transform="translate(932.65,398.57) scale(0.696,1)">OUT</text>
<text x="0" y="0" font-size="9.18" fill="#231815" font-weight="normal" font-family='"Liberation Sans", sans-serif' stroke="#231815" stroke-width="0.220" transform="translate(921.38,414.63) scale(1.361,1)">+</text>
<text x="0" y="0" font-size="11.64" fill="#231815" font-weight="normal" font-family='"Liberation Sans", sans-serif' stroke="#231815" stroke-width="0.315" transform="translate(933.82,433.50) scale(0.953,1)">mA/V</text>
<text x="0" y="0" font-size="13.25" fill="#231815" font-weight="normal" font-family='"Liberation Sans", sans-serif' stroke="#231815" stroke-width="0.120" transform="translate(878.27,478.94) scale(1.000,1)">热电阻输入</text>
<text x="0" y="0" font-size="8.84" fill="#231815" font-weight="bold" font-family='"Liberation Sans", sans-serif' transform="translate(878.10,337.90) scale(0.945,1)">11</text>
<text x="0" y="0" font-size="8.86" fill="#231815" font-weight="bold" font-family='"Liberation Sans", sans-serif' transform="translate(877.42,361.80) scale(1.084,1)">12</text>
<text x="0" y="0" font-size="10.99" fill="#231815" font-weight="bold" font-family='"Liberation Sans", sans-serif' transform="translate(877.69,421.49) scale(0.928,1)">25</text>
<text x="0" y="0" font-size="10.14" fill="#231815" font-weight="bold" font-family='"Liberation Sans", sans-serif' transform="translate(877.39,444.20) scale(1.034,1)">26</text>
<text x="0" y="0" font-size="10.29" fill="#231815" font-weight="bold" font-family='"Liberation Sans", sans-serif' transform="translate(878.66,501.40) scale(1.112,1)">22</text>
<text x="0" y="0" font-size="11.13" fill="#231815" font-weight="bold" font-family='"Liberation Sans", sans-serif' transform="translate(878.66,525.59) scale(1.028,1)">23</text>
<text x="0" y="0" font-size="10.43" fill="#231815" font-weight="bold" font-family='"Liberation Sans", sans-serif' transform="translate(878.67,549.40) scale(1.057,1)">24</text>
<text x="0" y="0" font-size="10.43" fill="#231815" font-weight="normal" font-family='"Liberation Sans", sans-serif' stroke="#231815" stroke-width="0.346" transform="translate(938.08,523.70) scale(0.868,1)">RTD</text>
<text x="0" y="0" font-size="19.13" fill="#2a2523" font-weight="normal" font-family='"Liberation Sans", sans-serif' stroke="#2a2523" stroke-width="0.466" transform="translate(108.21,620.60) scale(0.644,1)">1</text>
<text x="0" y="0" font-size="18.86" fill="#2a2523" font-weight="normal" font-family='"Liberation Sans", sans-serif' stroke="#2a2523" stroke-width="0.306" transform="translate(184.68,620.60) scale(0.980,1)">2</text>
<text x="0" y="0" font-size="18.59" fill="#2a2523" font-weight="normal" font-family='"Liberation Sans", sans-serif' stroke="#2a2523" stroke-width="0.276" transform="translate(250.59,620.41) scale(1.087,1)">3</text>
<text x="0" y="0" font-size="14.49" fill="#2a2523" font-weight="normal" font-family='"Liberation Sans", sans-serif' stroke="#2a2523" stroke-width="0.361" transform="translate(105.00,685.90) scale(0.831,1)">AK</text>
<text x="0" y="0" font-size="14.49" fill="#2a2523" font-weight="normal" font-family='"Liberation Sans", sans-serif' stroke="#2a2523" stroke-width="0.331" transform="translate(178.15,685.90) scale(0.905,1)">K1</text>
<text x="0" y="0" font-size="14.29" fill="#2a2523" font-weight="normal" font-family='"Liberation Sans", sans-serif' stroke="#2a2523" stroke-width="0.315" transform="translate(248.20,685.90) scale(0.951,1)">A2</text>
<text x="0" y="0" font-size="16.09" fill="#231815" font-weight="normal" font-family='"Liberation Sans", sans-serif' stroke="#231815" stroke-width="0.120" transform="translate(77.70,716.89) scale(1.000,1)">2个单向可控硅反并联（2和3短接）</text>
<text x="0" y="0" font-size="14.79" fill="#231815" font-weight="normal" font-family='"Liberation Sans", sans-serif' stroke="#231815" stroke-width="0.309" transform="translate(415.41,588.55) scale(0.970,1)">IN4001</text>
<text x="0" y="0" font-size="14.79" fill="#231815" font-weight="normal" font-family='"Liberation Sans", sans-serif' stroke="#231815" stroke-width="0.309" transform="translate(415.41,728.55) scale(0.970,1)">IN4001</text>
<text x="0" y="0" font-size="9.58" fill="#231815" font-weight="normal" font-family='"Liberation Sans", sans-serif' stroke="#231815" stroke-width="0.327" transform="translate(495.13,631.70) scale(0.764,1)">G1</text>
<text x="0" y="0" font-size="8.87" fill="#231815" font-weight="normal" font-family='"Liberation Sans", sans-serif' stroke="#231815" stroke-width="0.272" transform="translate(492.29,661.71) scale(0.919,1)">GL1</text>
<text x="0" y="0" font-size="9.28" fill="#231815" font-weight="normal" font-family='"Liberation Sans", sans-serif' stroke="#231815" stroke-width="0.255" transform="translate(792.48,682.80) scale(0.981,1)">IN1+</text>
<text x="0" y="0" font-size="8.31" fill="#231815" font-weight="normal" font-family='"Liberation Sans", sans-serif' stroke="#231815" stroke-width="0.315" transform="translate(792.37,710.62) scale(0.795,1)">GND</text>
<text x="0" y="0" font-size="8.41" fill="#231815" font-weight="normal" font-family='"Liberation Sans", sans-serif' stroke="#231815" stroke-width="0.231" transform="translate(795.27,721.60) scale(1.082,1)">L</text>
<text x="0" y="0" font-size="10.28" fill="#231815" font-weight="normal" font-family='"Liberation Sans", sans-serif' stroke="#231815" stroke-width="0.307" transform="translate(808.50,733.90) scale(0.813,1)">AC220V</text>
<text x="0" y="0" font-size="8.70" fill="#231815" font-weight="normal" font-family='"Liberation Sans", sans-serif' stroke="#231815" stroke-width="0.265" transform="translate(795.34,745.80) scale(0.945,1)">N</text>
<text x="0" y="0" font-size="16.11" fill="#231815" font-weight="normal" font-family='"Liberation Sans", sans-serif' stroke="#231815" stroke-width="0.120" transform="translate(18.47,124.34) scale(1.000,1)">电源端</text>
<text x="0" y="0" font-size="16.48" fill="#231815" font-weight="normal" font-family='"Liberation Sans", sans-serif' stroke="#231815" stroke-width="0.386" transform="translate(80.80,124.04) scale(0.778,1)">AC220V</text>
<text x="0" y="0" font-size="16.96" fill="#e60012" font-weight="bold" font-family='"Liberation Sans", sans-serif' transform="translate(17.83,151.30) scale(0.821,1)">L</text>
<text x="0" y="0" font-size="16.38" fill="#231815" font-weight="bold" font-family='"Liberation Sans", sans-serif' transform="translate(18.16,186.00) scale(0.737,1)">N</text>
<text x="0" y="0" font-size="16.13" fill="#231815" font-weight="normal" font-family='"Liberation Sans", sans-serif' stroke="#231815" stroke-width="0.120" transform="translate(40.78,235.26) scale(1.000,1)">溶断器</text>
<text x="0" y="0" font-size="13.33" fill="#231815" font-weight="normal" font-family='"Liberation Sans", sans-serif' stroke="#231815" stroke-width="0.631" transform="translate(111.15,234.80) scale(0.793,1)">BX</text>
<text x="0" y="0" font-size="15.54" fill="#231815" font-weight="normal" font-family='"Liberation Sans", sans-serif' stroke="#231815" stroke-width="0.120" transform="translate(196.39,307.53) scale(1.000,1)">负载</text>
<text x="0" y="0" font-size="16.06" fill="#231815" font-weight="normal" font-family='"Liberation Sans", sans-serif' stroke="#231815" stroke-width="0.120" transform="translate(182.82,475.91) scale(1.000,1)">压敏电阻</text>
<text x="0" y="0" font-size="16.18" fill="#231815" font-weight="normal" font-family='"Liberation Sans", sans-serif' stroke="#231815" stroke-width="0.120" transform="translate(182.33,528.16) scale(1.000,1)">阻容吸收</text>
<text x="0" y="0" font-size="12.32" fill="#231815" font-weight="normal" font-family='"Liberation Sans", sans-serif' stroke="#231815" stroke-width="0.436" transform="translate(134.70,493.00) scale(0.804,1)">ZNR</text>
<text x="0" y="0" font-size="11.41" fill="#231815" font-weight="normal" font-family='"Liberation Sans", sans-serif' stroke="#231815" stroke-width="0.396" transform="translate(127.39,544.39) scale(0.883,1)">RC</text>
</svg>
<div id="note"><span class="lat">G1</span>和<span class="lat">GL1</span>端子无极性，<span class="q" style="text-align:right;left:2px">“</span>傻瓜式<span class="q" style="text-align:left;left:-2px">”</span>接线</div>
<svg class="abs" style="left:0;top:900px" width="990" height="110" viewBox="0 0 990 110">
<g font-family='"Liberation Sans", sans-serif' font-size="40.8">
<g transform="translate(313,77.3) scale(1,1.1)"><text fill="#fff" stroke="#fff" stroke-width="7" stroke-linejoin="round">多种产品</text><text fill="#0a0a0a" stroke="#0a0a0a" stroke-width="0.6">多种产品</text></g>
<g transform="translate(528.5,77.3) scale(1,1.1)"><text fill="#fff" stroke="#fff" stroke-width="7" stroke-linejoin="round">满足需求</text><text fill="#0a0a0a" stroke="#0a0a0a" stroke-width="0.6">满足需求</text></g>
</g></svg>
<div class="btn" style="left:82px;top:1032.2px"><span>数显表</span></div><div class="btn" style="left:557px;top:1032.2px"><span style="left:-8px">智能PID温控器</span></div><div class="btn" style="left:82px;top:1120.2px"><span>人工智能调节仪</span></div><div class="btn" style="left:557px;top:1120.2px"><span style="left:-8px">手动操作器</span></div><div class="btn" style="left:82px;top:1207.2px"><span>流量积算仪</span></div><div class="btn" style="left:557px;top:1207.2px"><span style="left:-8px">多路巡检仪</span></div><div class="btn" style="left:82px;top:1295.6px"><span>壁挂式数显仪</span></div><div class="btn" style="left:557px;top:1295.6px"><span style="left:-8px">导轨式数显仪</span></div><div class="btn" style="left:82px;top:1382.6px"><span>温度远传监测仪</span></div><div class="btn" style="left:557px;top:1382.6px"><span style="left:-8px">闪光报警器</span></div>
<div id="bot"></div>
</body></html>
